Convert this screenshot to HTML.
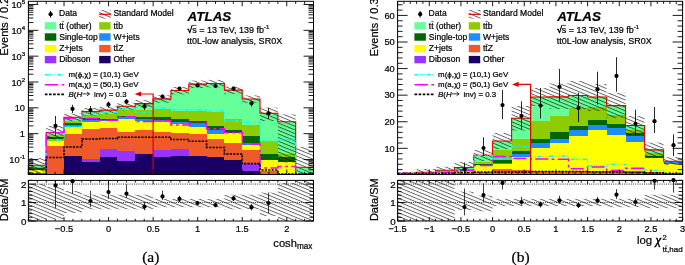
<!DOCTYPE html><html><head><meta charset="utf-8"><style>html,body{margin:0;padding:0;background:#fff;overflow:hidden}svg{display:block;will-change:transform}text{stroke:#000;stroke-width:0.22px;paint-order:stroke}</style></head><body><svg width="685" height="265" viewBox="0 0 685 265" font-family="Liberation Sans, sans-serif">
<defs>
<pattern id="hatch" patternUnits="userSpaceOnUse" width="40" height="3.35" patternTransform="rotate(22.5)"><line x1="0" y1="0.5" x2="40" y2="0.5" stroke="#000" stroke-width="0.62"/></pattern>
<clipPath id="clipm0"><rect x="28.4" y="1.3" width="285.1" height="173.2"/></clipPath>
<clipPath id="clipr0"><rect x="28.4" y="180.4" width="285.1" height="40.599999999999994"/></clipPath>
<clipPath id="clipm1"><rect x="397.6" y="1.3" width="285.0" height="173.2"/></clipPath>
<clipPath id="clipr1"><rect x="397.6" y="180.4" width="285.0" height="40.599999999999994"/></clipPath>
</defs>
<rect width="685" height="265" fill="#fff"/>
<rect x="28.40" y="165.30" width="17.82" height="1.50" fill="#66ff99" shape-rendering="crispEdges"/>
<rect x="28.40" y="166.80" width="17.82" height="1.20" fill="#8ccc00" shape-rendering="crispEdges"/>
<rect x="28.40" y="168.00" width="17.82" height="2.00" fill="#006600" shape-rendering="crispEdges"/>
<rect x="28.40" y="170.00" width="17.82" height="2.50" fill="#ffff00" shape-rendering="crispEdges"/>
<rect x="28.40" y="172.50" width="17.82" height="2.00" fill="#ee5a2a" shape-rendering="crispEdges"/>
<rect x="46.22" y="132.50" width="17.82" height="2.00" fill="#66ff99" shape-rendering="crispEdges"/>
<rect x="46.22" y="134.50" width="17.82" height="2.00" fill="#8ccc00" shape-rendering="crispEdges"/>
<rect x="46.22" y="136.50" width="17.82" height="2.50" fill="#006600" shape-rendering="crispEdges"/>
<rect x="46.22" y="139.00" width="17.82" height="2.00" fill="#8ccc00" shape-rendering="crispEdges"/>
<rect x="46.22" y="141.00" width="17.82" height="5.10" fill="#ffff00" shape-rendering="crispEdges"/>
<rect x="46.22" y="146.10" width="17.82" height="28.40" fill="#ee5a2a" shape-rendering="crispEdges"/>
<rect x="64.04" y="117.30" width="17.82" height="3.20" fill="#66ff99" shape-rendering="crispEdges"/>
<rect x="64.04" y="120.50" width="17.82" height="2.50" fill="#8ccc00" shape-rendering="crispEdges"/>
<rect x="64.04" y="123.00" width="17.82" height="2.00" fill="#006600" shape-rendering="crispEdges"/>
<rect x="64.04" y="125.00" width="17.82" height="2.00" fill="#1e8cff" shape-rendering="crispEdges"/>
<rect x="64.04" y="127.00" width="17.82" height="6.50" fill="#ffff00" shape-rendering="crispEdges"/>
<rect x="64.04" y="133.50" width="17.82" height="22.60" fill="#ee5a2a" shape-rendering="crispEdges"/>
<rect x="64.04" y="156.10" width="17.82" height="18.40" fill="#1a0066" shape-rendering="crispEdges"/>
<rect x="81.86" y="111.60" width="17.82" height="3.40" fill="#66ff99" shape-rendering="crispEdges"/>
<rect x="81.86" y="115.00" width="17.82" height="3.00" fill="#8ccc00" shape-rendering="crispEdges"/>
<rect x="81.86" y="118.00" width="17.82" height="2.00" fill="#006600" shape-rendering="crispEdges"/>
<rect x="81.86" y="120.00" width="17.82" height="2.40" fill="#1e8cff" shape-rendering="crispEdges"/>
<rect x="81.86" y="122.40" width="17.82" height="6.20" fill="#ffff00" shape-rendering="crispEdges"/>
<rect x="81.86" y="128.60" width="17.82" height="30.10" fill="#ee5a2a" shape-rendering="crispEdges"/>
<rect x="81.86" y="158.70" width="17.82" height="3.00" fill="#9933ff" shape-rendering="crispEdges"/>
<rect x="81.86" y="161.70" width="17.82" height="12.80" fill="#1a0066" shape-rendering="crispEdges"/>
<rect x="99.68" y="110.10" width="17.82" height="3.40" fill="#66ff99" shape-rendering="crispEdges"/>
<rect x="99.68" y="113.50" width="17.82" height="5.00" fill="#8ccc00" shape-rendering="crispEdges"/>
<rect x="99.68" y="118.50" width="17.82" height="1.50" fill="#006600" shape-rendering="crispEdges"/>
<rect x="99.68" y="120.00" width="17.82" height="1.00" fill="#1e8cff" shape-rendering="crispEdges"/>
<rect x="99.68" y="121.00" width="17.82" height="7.00" fill="#ffff00" shape-rendering="crispEdges"/>
<rect x="99.68" y="128.00" width="17.82" height="20.90" fill="#ee5a2a" shape-rendering="crispEdges"/>
<rect x="99.68" y="148.90" width="17.82" height="8.50" fill="#9933ff" shape-rendering="crispEdges"/>
<rect x="99.68" y="157.40" width="17.82" height="17.10" fill="#1a0066" shape-rendering="crispEdges"/>
<rect x="117.49" y="106.30" width="17.82" height="3.80" fill="#66ff99" shape-rendering="crispEdges"/>
<rect x="117.49" y="110.10" width="17.82" height="5.70" fill="#8ccc00" shape-rendering="crispEdges"/>
<rect x="117.49" y="115.80" width="17.82" height="1.20" fill="#006600" shape-rendering="crispEdges"/>
<rect x="117.49" y="117.00" width="17.82" height="1.50" fill="#1e8cff" shape-rendering="crispEdges"/>
<rect x="117.49" y="118.50" width="17.82" height="13.00" fill="#ffff00" shape-rendering="crispEdges"/>
<rect x="117.49" y="131.50" width="17.82" height="19.90" fill="#ee5a2a" shape-rendering="crispEdges"/>
<rect x="117.49" y="151.40" width="17.82" height="9.40" fill="#9933ff" shape-rendering="crispEdges"/>
<rect x="117.49" y="160.80" width="17.82" height="13.70" fill="#1a0066" shape-rendering="crispEdges"/>
<rect x="135.31" y="103.60" width="17.82" height="6.60" fill="#66ff99" shape-rendering="crispEdges"/>
<rect x="135.31" y="110.20" width="17.82" height="7.20" fill="#8ccc00" shape-rendering="crispEdges"/>
<rect x="135.31" y="117.40" width="17.82" height="1.60" fill="#006600" shape-rendering="crispEdges"/>
<rect x="135.31" y="119.00" width="17.82" height="2.00" fill="#1e8cff" shape-rendering="crispEdges"/>
<rect x="135.31" y="121.00" width="17.82" height="8.80" fill="#ffff00" shape-rendering="crispEdges"/>
<rect x="135.31" y="129.80" width="17.82" height="24.40" fill="#ee5a2a" shape-rendering="crispEdges"/>
<rect x="135.31" y="154.20" width="17.82" height="20.30" fill="#1a0066" shape-rendering="crispEdges"/>
<rect x="153.13" y="98.90" width="17.82" height="9.70" fill="#66ff99" shape-rendering="crispEdges"/>
<rect x="153.13" y="108.60" width="17.82" height="7.90" fill="#8ccc00" shape-rendering="crispEdges"/>
<rect x="153.13" y="116.50" width="17.82" height="3.00" fill="#006600" shape-rendering="crispEdges"/>
<rect x="153.13" y="119.50" width="17.82" height="2.10" fill="#1e8cff" shape-rendering="crispEdges"/>
<rect x="153.13" y="121.60" width="17.82" height="10.40" fill="#ffff00" shape-rendering="crispEdges"/>
<rect x="153.13" y="132.00" width="17.82" height="17.60" fill="#ee5a2a" shape-rendering="crispEdges"/>
<rect x="153.13" y="149.60" width="17.82" height="7.80" fill="#9933ff" shape-rendering="crispEdges"/>
<rect x="153.13" y="157.40" width="17.82" height="17.10" fill="#1a0066" shape-rendering="crispEdges"/>
<rect x="170.95" y="90.50" width="17.82" height="20.30" fill="#66ff99" shape-rendering="crispEdges"/>
<rect x="170.95" y="110.80" width="17.82" height="8.40" fill="#8ccc00" shape-rendering="crispEdges"/>
<rect x="170.95" y="119.20" width="17.82" height="2.40" fill="#006600" shape-rendering="crispEdges"/>
<rect x="170.95" y="121.60" width="17.82" height="2.60" fill="#1e8cff" shape-rendering="crispEdges"/>
<rect x="170.95" y="124.20" width="17.82" height="8.90" fill="#ffff00" shape-rendering="crispEdges"/>
<rect x="170.95" y="133.10" width="17.82" height="15.90" fill="#ee5a2a" shape-rendering="crispEdges"/>
<rect x="170.95" y="149.00" width="17.82" height="7.40" fill="#9933ff" shape-rendering="crispEdges"/>
<rect x="170.95" y="156.40" width="17.82" height="18.10" fill="#1a0066" shape-rendering="crispEdges"/>
<rect x="188.77" y="84.10" width="17.82" height="26.70" fill="#66ff99" shape-rendering="crispEdges"/>
<rect x="188.77" y="110.80" width="17.82" height="9.80" fill="#8ccc00" shape-rendering="crispEdges"/>
<rect x="188.77" y="120.60" width="17.82" height="1.90" fill="#006600" shape-rendering="crispEdges"/>
<rect x="188.77" y="122.50" width="17.82" height="4.70" fill="#1e8cff" shape-rendering="crispEdges"/>
<rect x="188.77" y="127.20" width="17.82" height="7.20" fill="#ffff00" shape-rendering="crispEdges"/>
<rect x="188.77" y="134.40" width="17.82" height="22.00" fill="#ee5a2a" shape-rendering="crispEdges"/>
<rect x="188.77" y="156.40" width="17.82" height="18.10" fill="#1a0066" shape-rendering="crispEdges"/>
<rect x="206.59" y="83.50" width="17.82" height="28.50" fill="#66ff99" shape-rendering="crispEdges"/>
<rect x="206.59" y="112.00" width="17.82" height="13.60" fill="#8ccc00" shape-rendering="crispEdges"/>
<rect x="206.59" y="125.60" width="17.82" height="3.90" fill="#006600" shape-rendering="crispEdges"/>
<rect x="206.59" y="129.50" width="17.82" height="4.60" fill="#1e8cff" shape-rendering="crispEdges"/>
<rect x="206.59" y="134.10" width="17.82" height="4.70" fill="#ffff00" shape-rendering="crispEdges"/>
<rect x="206.59" y="138.80" width="17.82" height="18.60" fill="#ee5a2a" shape-rendering="crispEdges"/>
<rect x="206.59" y="157.40" width="17.82" height="17.10" fill="#1a0066" shape-rendering="crispEdges"/>
<rect x="224.41" y="90.10" width="17.82" height="28.90" fill="#66ff99" shape-rendering="crispEdges"/>
<rect x="224.41" y="119.00" width="17.82" height="11.20" fill="#8ccc00" shape-rendering="crispEdges"/>
<rect x="224.41" y="130.20" width="17.82" height="3.00" fill="#006600" shape-rendering="crispEdges"/>
<rect x="224.41" y="133.20" width="17.82" height="10.20" fill="#ffff00" shape-rendering="crispEdges"/>
<rect x="224.41" y="143.40" width="17.82" height="16.80" fill="#ee5a2a" shape-rendering="crispEdges"/>
<rect x="224.41" y="160.20" width="17.82" height="14.30" fill="#1a0066" shape-rendering="crispEdges"/>
<rect x="242.23" y="99.00" width="17.82" height="26.00" fill="#66ff99" shape-rendering="crispEdges"/>
<rect x="242.23" y="125.00" width="17.82" height="10.50" fill="#8ccc00" shape-rendering="crispEdges"/>
<rect x="242.23" y="135.50" width="17.82" height="7.50" fill="#006600" shape-rendering="crispEdges"/>
<rect x="242.23" y="143.00" width="17.82" height="2.00" fill="#1e8cff" shape-rendering="crispEdges"/>
<rect x="242.23" y="145.00" width="17.82" height="4.60" fill="#ffff00" shape-rendering="crispEdges"/>
<rect x="242.23" y="149.60" width="17.82" height="14.00" fill="#ee5a2a" shape-rendering="crispEdges"/>
<rect x="242.23" y="163.60" width="17.82" height="6.90" fill="#9933ff" shape-rendering="crispEdges"/>
<rect x="242.23" y="170.50" width="17.82" height="4.00" fill="#1a0066" shape-rendering="crispEdges"/>
<rect x="260.04" y="113.30" width="17.82" height="27.20" fill="#66ff99" shape-rendering="crispEdges"/>
<rect x="260.04" y="140.50" width="17.82" height="13.50" fill="#8ccc00" shape-rendering="crispEdges"/>
<rect x="260.04" y="154.00" width="17.82" height="5.50" fill="#006600" shape-rendering="crispEdges"/>
<rect x="260.04" y="159.50" width="17.82" height="11.10" fill="#ffff00" shape-rendering="crispEdges"/>
<rect x="260.04" y="170.60" width="17.82" height="3.90" fill="#ee5a2a" shape-rendering="crispEdges"/>
<rect x="277.86" y="121.80" width="17.82" height="31.90" fill="#66ff99" shape-rendering="crispEdges"/>
<rect x="277.86" y="153.70" width="17.82" height="3.30" fill="#8ccc00" shape-rendering="crispEdges"/>
<rect x="277.86" y="157.00" width="17.82" height="5.20" fill="#006600" shape-rendering="crispEdges"/>
<rect x="277.86" y="162.20" width="17.82" height="12.30" fill="#ffff00" shape-rendering="crispEdges"/>
<rect x="295.68" y="167.30" width="17.82" height="7.20" fill="#66ff99" shape-rendering="crispEdges"/>
<g clip-path="url(#clipm0)">
<rect x="28.40" y="158.00" width="17.82" height="16.50" fill="url(#hatch)"/>
<rect x="46.22" y="126.00" width="17.82" height="13.50" fill="url(#hatch)"/>
<rect x="64.04" y="113.70" width="17.82" height="7.40" fill="url(#hatch)"/>
<rect x="81.86" y="108.00" width="17.82" height="7.40" fill="url(#hatch)"/>
<rect x="99.68" y="106.50" width="17.82" height="7.40" fill="url(#hatch)"/>
<rect x="117.49" y="102.70" width="17.82" height="7.40" fill="url(#hatch)"/>
<rect x="135.31" y="100.00" width="17.82" height="7.40" fill="url(#hatch)"/>
<rect x="153.13" y="95.30" width="17.82" height="7.40" fill="url(#hatch)"/>
<rect x="170.95" y="86.90" width="17.82" height="7.40" fill="url(#hatch)"/>
<rect x="188.77" y="80.50" width="17.82" height="7.40" fill="url(#hatch)"/>
<rect x="206.59" y="79.90" width="17.82" height="7.40" fill="url(#hatch)"/>
<rect x="224.41" y="86.50" width="17.82" height="7.40" fill="url(#hatch)"/>
<rect x="242.23" y="95.40" width="17.82" height="7.40" fill="url(#hatch)"/>
<rect x="260.04" y="107.60" width="17.82" height="13.40" fill="url(#hatch)"/>
<rect x="277.86" y="114.40" width="17.82" height="48.10" fill="url(#hatch)"/>
<rect x="295.68" y="146.90" width="17.82" height="27.60" fill="url(#hatch)"/>
</g>
<path d="M28.40,174.5 L28.40,165.30 L46.22,165.30 L46.22,132.50 L64.04,132.50 L64.04,117.30 L81.86,117.30 L81.86,111.60 L99.68,111.60 L99.68,110.10 L117.49,110.10 L117.49,106.30 L135.31,106.30 L135.31,103.60 L153.13,103.60 L153.13,98.90 L170.95,98.90 L170.95,90.50 L188.77,90.50 L188.77,84.10 L206.59,84.10 L206.59,83.50 L224.41,83.50 L224.41,90.10 L242.23,90.10 L242.23,99.00 L260.04,99.00 L260.04,113.30 L277.86,113.30 L277.86,121.80 L295.68,121.80 L295.68,167.30 L313.50,167.30 L313.50,174.5" fill="none" stroke="#e00000" stroke-width="1.1"/>
<path d="M28.40,174.00 L46.22,174.00 L46.22,140.00 L64.04,140.00 L64.04,126.70 L81.86,126.70 L81.86,113.00 L99.68,113.00 L99.68,112.50 L117.49,112.50 L117.49,109.00 L135.31,109.00 L135.31,113.00 L153.13,113.00 L153.13,108.20 L170.95,108.20 L170.95,109.90 L188.77,109.90 L188.77,110.00 L206.59,110.00 L206.59,111.00 L224.41,111.00 L224.41,121.00 L242.23,121.00 L242.23,122.50 L260.04,122.50 L260.04,141.00 L277.86,141.00 L277.86,139.50 L295.68,139.50 L295.68,174.00 L313.50,174.00" fill="none" stroke="#00ffff" stroke-width="1.4" stroke-dasharray="4 1.5 0.8 1.4 0.8 1.4 0.8 1.5"/>
<path d="M28.40,174.00 L46.22,174.00 L46.22,132.50 L64.04,132.50 L64.04,118.50 L81.86,118.50 L81.86,118.40 L99.68,118.40 L99.68,120.30 L117.49,120.30 L117.49,116.80 L135.31,116.80 L135.31,121.40 L153.13,121.40 L153.13,120.40 L170.95,120.40 L170.95,125.10 L188.77,125.10 L188.77,123.20 L206.59,123.20 L206.59,128.80 L224.41,128.80 L224.41,132.70 L242.23,132.70 L242.23,144.00 L260.04,144.00 L260.04,168.00 L277.86,168.00 L277.86,166.40 L295.68,166.40 L295.68,174.00 L313.50,174.00" fill="none" stroke="#ff00ff" stroke-width="1.5" stroke-dasharray="13 3.4 2.7 3.4"/>
<path d="M28.40,174.00 L46.22,174.00 L46.22,157.50 L64.04,157.50 L64.04,147.00 L81.86,147.00 L81.86,139.00 L99.68,139.00 L99.68,138.50 L117.49,138.50 L117.49,137.30 L135.31,137.30 L135.31,137.30 L153.13,137.30 L153.13,137.20 L170.95,137.20 L170.95,139.50 L188.77,139.50 L188.77,141.20 L206.59,141.20 L206.59,147.50 L224.41,147.50 L224.41,154.00 L242.23,154.00 L242.23,163.60 L260.04,163.60 L260.04,170.00 L277.86,170.00 L277.86,174.00 L295.68,174.00 L295.68,174.00 L313.50,174.00" fill="none" stroke="#000" stroke-width="1.6" stroke-dasharray="2.2 1.2"/>
<path d="M153.13,174.5 L153.13,94.00 L139.13,94.00" fill="none" stroke="#e00000" stroke-width="1.2"/>
<path d="M134.63,94.00 L141.13,91.40 L141.13,96.60 Z" fill="#e00000"/>
<line x1="55.50" y1="116.00" x2="55.50" y2="136.00" stroke="#000" stroke-width="0.85" />
<circle cx="55.50" cy="125.90" r="2.1" fill="#000"/>
<line x1="72.50" y1="104.80" x2="72.50" y2="113.10" stroke="#000" stroke-width="0.85" />
<circle cx="72.50" cy="108.90" r="2.1" fill="#000"/>
<line x1="90.50" y1="106.00" x2="90.50" y2="114.00" stroke="#000" stroke-width="0.85" />
<circle cx="90.50" cy="110.00" r="2.1" fill="#000"/>
<line x1="108.50" y1="101.50" x2="108.50" y2="107.50" stroke="#000" stroke-width="0.85" />
<circle cx="108.50" cy="104.40" r="2.1" fill="#000"/>
<line x1="126.50" y1="99.00" x2="126.50" y2="104.50" stroke="#000" stroke-width="0.85" />
<circle cx="126.50" cy="101.60" r="2.1" fill="#000"/>
<line x1="144.50" y1="103.00" x2="144.50" y2="110.00" stroke="#000" stroke-width="0.85" />
<circle cx="144.50" cy="106.40" r="2.1" fill="#000"/>
<line x1="162.50" y1="94.50" x2="162.50" y2="99.00" stroke="#000" stroke-width="0.85" />
<circle cx="162.50" cy="96.60" r="2.1" fill="#000"/>
<line x1="179.50" y1="87.00" x2="179.50" y2="90.30" stroke="#000" stroke-width="0.85" />
<circle cx="179.50" cy="88.60" r="2.1" fill="#000"/>
<line x1="197.50" y1="84.00" x2="197.50" y2="87.00" stroke="#000" stroke-width="0.85" />
<circle cx="197.50" cy="85.40" r="2.1" fill="#000"/>
<line x1="215.50" y1="84.50" x2="215.50" y2="87.50" stroke="#000" stroke-width="0.85" />
<circle cx="215.50" cy="86.00" r="2.1" fill="#000"/>
<line x1="233.50" y1="87.00" x2="233.50" y2="90.30" stroke="#000" stroke-width="0.85" />
<circle cx="233.50" cy="88.60" r="2.1" fill="#000"/>
<line x1="251.50" y1="100.50" x2="251.50" y2="106.50" stroke="#000" stroke-width="0.85" />
<circle cx="251.50" cy="103.30" r="2.1" fill="#000"/>
<line x1="268.50" y1="107.70" x2="268.50" y2="119.00" stroke="#000" stroke-width="0.85" />
<circle cx="268.50" cy="113.30" r="2.1" fill="#000"/>
<rect x="28.40" y="1.30" width="285.10" height="173.20" fill="none" stroke="#000" stroke-width="1"/>
<g clip-path="url(#clipr0)">
<rect x="28.40" y="184.00" width="17.82" height="37.00" fill="url(#hatch)"/>
<rect x="46.22" y="187.00" width="17.82" height="32.00" fill="url(#hatch)"/>
<rect x="64.04" y="191.00" width="17.82" height="22.00" fill="url(#hatch)"/>
<rect x="81.86" y="194.70" width="17.82" height="14.60" fill="url(#hatch)"/>
<rect x="99.68" y="194.70" width="17.82" height="14.60" fill="url(#hatch)"/>
<rect x="117.49" y="194.70" width="17.82" height="14.60" fill="url(#hatch)"/>
<rect x="135.31" y="194.70" width="17.82" height="14.60" fill="url(#hatch)"/>
<rect x="153.13" y="198.90" width="17.82" height="8.30" fill="url(#hatch)"/>
<rect x="170.95" y="198.90" width="17.82" height="8.30" fill="url(#hatch)"/>
<rect x="188.77" y="198.90" width="17.82" height="8.30" fill="url(#hatch)"/>
<rect x="206.59" y="198.90" width="17.82" height="8.30" fill="url(#hatch)"/>
<rect x="224.41" y="194.70" width="17.82" height="14.60" fill="url(#hatch)"/>
<rect x="242.23" y="194.70" width="17.82" height="14.60" fill="url(#hatch)"/>
<rect x="260.04" y="192.60" width="17.82" height="23.40" fill="url(#hatch)"/>
<rect x="277.86" y="183.00" width="17.82" height="38.00" fill="url(#hatch)"/>
<rect x="295.68" y="180.40" width="17.82" height="40.60" fill="url(#hatch)"/>
</g>
<line x1="28.40" y1="202.55" x2="313.50" y2="202.55" stroke="#000" stroke-width="0.8" stroke-dasharray="1 1.2"/>
<line x1="28.40" y1="184.09" x2="313.50" y2="184.09" stroke="#000" stroke-width="0.8" stroke-dasharray="1 1.2"/>
<line x1="55.50" y1="181.00" x2="55.50" y2="208.20" stroke="#000" stroke-width="0.75" />
<circle cx="55.50" cy="185.40" r="2.1" fill="#000"/>
<line x1="72.50" y1="181.00" x2="72.50" y2="193.70" stroke="#000" stroke-width="0.75" />
<circle cx="72.50" cy="181.20" r="2.1" fill="#000"/>
<line x1="90.50" y1="190.60" x2="90.50" y2="207.20" stroke="#000" stroke-width="0.75" />
<circle cx="90.50" cy="201.00" r="2.1" fill="#000"/>
<line x1="108.50" y1="181.20" x2="108.50" y2="198.90" stroke="#000" stroke-width="0.75" />
<circle cx="108.50" cy="192.00" r="2.1" fill="#000"/>
<line x1="126.50" y1="184.30" x2="126.50" y2="197.90" stroke="#000" stroke-width="0.75" />
<circle cx="126.50" cy="193.70" r="2.1" fill="#000"/>
<line x1="144.50" y1="202.00" x2="144.50" y2="210.30" stroke="#000" stroke-width="0.75" />
<circle cx="144.50" cy="206.60" r="2.1" fill="#000"/>
<line x1="162.50" y1="190.60" x2="162.50" y2="199.90" stroke="#000" stroke-width="0.75" />
<circle cx="162.50" cy="196.40" r="2.1" fill="#000"/>
<line x1="179.50" y1="195.80" x2="179.50" y2="202.00" stroke="#000" stroke-width="0.75" />
<circle cx="179.50" cy="198.90" r="2.1" fill="#000"/>
<line x1="197.50" y1="201.00" x2="197.50" y2="205.00" stroke="#000" stroke-width="0.75" />
<circle cx="197.50" cy="203.00" r="2.1" fill="#000"/>
<line x1="215.50" y1="203.00" x2="215.50" y2="207.20" stroke="#000" stroke-width="0.75" />
<circle cx="215.50" cy="205.10" r="2.1" fill="#000"/>
<line x1="233.50" y1="196.00" x2="233.50" y2="201.00" stroke="#000" stroke-width="0.75" />
<circle cx="233.50" cy="198.40" r="2.1" fill="#000"/>
<line x1="251.50" y1="204.00" x2="251.50" y2="210.50" stroke="#000" stroke-width="0.75" />
<circle cx="251.50" cy="207.20" r="2.1" fill="#000"/>
<line x1="268.50" y1="192.60" x2="268.50" y2="213.40" stroke="#000" stroke-width="0.75" />
<circle cx="268.50" cy="203.00" r="2.1" fill="#000"/>
<rect x="28.40" y="180.40" width="285.10" height="40.60" fill="none" stroke="#000" stroke-width="1"/>
<rect x="397.60" y="173.20" width="19.00" height="0.60" fill="#ffff00" shape-rendering="crispEdges"/>
<rect x="397.60" y="173.80" width="19.00" height="0.70" fill="#ee5a2a" shape-rendering="crispEdges"/>
<rect x="416.60" y="172.30" width="19.00" height="0.70" fill="#66ff99" shape-rendering="crispEdges"/>
<rect x="416.60" y="173.00" width="19.00" height="0.80" fill="#ffff00" shape-rendering="crispEdges"/>
<rect x="416.60" y="173.80" width="19.00" height="0.70" fill="#ee5a2a" shape-rendering="crispEdges"/>
<rect x="435.60" y="170.30" width="19.00" height="1.00" fill="#66ff99" shape-rendering="crispEdges"/>
<rect x="435.60" y="171.30" width="19.00" height="1.00" fill="#8ccc00" shape-rendering="crispEdges"/>
<rect x="435.60" y="172.30" width="19.00" height="1.20" fill="#ffff00" shape-rendering="crispEdges"/>
<rect x="435.60" y="173.50" width="19.00" height="1.00" fill="#ee5a2a" shape-rendering="crispEdges"/>
<rect x="454.60" y="167.50" width="19.00" height="1.50" fill="#66ff99" shape-rendering="crispEdges"/>
<rect x="454.60" y="169.00" width="19.00" height="1.50" fill="#8ccc00" shape-rendering="crispEdges"/>
<rect x="454.60" y="170.50" width="19.00" height="2.00" fill="#ffff00" shape-rendering="crispEdges"/>
<rect x="454.60" y="172.50" width="19.00" height="2.00" fill="#ee5a2a" shape-rendering="crispEdges"/>
<rect x="473.60" y="155.20" width="19.00" height="6.60" fill="#66ff99" shape-rendering="crispEdges"/>
<rect x="473.60" y="161.80" width="19.00" height="2.00" fill="#8ccc00" shape-rendering="crispEdges"/>
<rect x="473.60" y="163.80" width="19.00" height="1.20" fill="#006600" shape-rendering="crispEdges"/>
<rect x="473.60" y="165.00" width="19.00" height="6.50" fill="#ffff00" shape-rendering="crispEdges"/>
<rect x="473.60" y="171.50" width="19.00" height="3.00" fill="#ee5a2a" shape-rendering="crispEdges"/>
<rect x="492.60" y="141.00" width="19.00" height="8.50" fill="#66ff99" shape-rendering="crispEdges"/>
<rect x="492.60" y="149.50" width="19.00" height="10.70" fill="#8ccc00" shape-rendering="crispEdges"/>
<rect x="492.60" y="160.20" width="19.00" height="2.30" fill="#006600" shape-rendering="crispEdges"/>
<rect x="492.60" y="162.50" width="19.00" height="1.50" fill="#1e8cff" shape-rendering="crispEdges"/>
<rect x="492.60" y="164.00" width="19.00" height="5.20" fill="#ffff00" shape-rendering="crispEdges"/>
<rect x="492.60" y="169.20" width="19.00" height="5.30" fill="#ee5a2a" shape-rendering="crispEdges"/>
<rect x="511.60" y="118.30" width="19.00" height="20.90" fill="#66ff99" shape-rendering="crispEdges"/>
<rect x="511.60" y="139.20" width="19.00" height="11.30" fill="#8ccc00" shape-rendering="crispEdges"/>
<rect x="511.60" y="150.50" width="19.00" height="3.70" fill="#006600" shape-rendering="crispEdges"/>
<rect x="511.60" y="154.20" width="19.00" height="2.80" fill="#1e8cff" shape-rendering="crispEdges"/>
<rect x="511.60" y="157.00" width="19.00" height="13.20" fill="#ffff00" shape-rendering="crispEdges"/>
<rect x="511.60" y="170.20" width="19.00" height="4.30" fill="#ee5a2a" shape-rendering="crispEdges"/>
<rect x="530.60" y="97.00" width="19.00" height="23.60" fill="#66ff99" shape-rendering="crispEdges"/>
<rect x="530.60" y="120.60" width="19.00" height="18.00" fill="#8ccc00" shape-rendering="crispEdges"/>
<rect x="530.60" y="138.60" width="19.00" height="4.70" fill="#006600" shape-rendering="crispEdges"/>
<rect x="530.60" y="143.30" width="19.00" height="4.70" fill="#1e8cff" shape-rendering="crispEdges"/>
<rect x="530.60" y="148.00" width="19.00" height="22.50" fill="#ffff00" shape-rendering="crispEdges"/>
<rect x="530.60" y="170.50" width="19.00" height="4.00" fill="#ee5a2a" shape-rendering="crispEdges"/>
<rect x="549.60" y="96.90" width="19.00" height="19.50" fill="#66ff99" shape-rendering="crispEdges"/>
<rect x="549.60" y="116.40" width="19.00" height="15.20" fill="#8ccc00" shape-rendering="crispEdges"/>
<rect x="549.60" y="131.60" width="19.00" height="7.00" fill="#006600" shape-rendering="crispEdges"/>
<rect x="549.60" y="138.60" width="19.00" height="4.80" fill="#1e8cff" shape-rendering="crispEdges"/>
<rect x="549.60" y="143.40" width="19.00" height="27.10" fill="#ffff00" shape-rendering="crispEdges"/>
<rect x="549.60" y="170.50" width="19.00" height="4.00" fill="#ee5a2a" shape-rendering="crispEdges"/>
<rect x="568.60" y="95.50" width="19.00" height="12.10" fill="#66ff99" shape-rendering="crispEdges"/>
<rect x="568.60" y="107.60" width="19.00" height="18.10" fill="#8ccc00" shape-rendering="crispEdges"/>
<rect x="568.60" y="125.70" width="19.00" height="4.70" fill="#006600" shape-rendering="crispEdges"/>
<rect x="568.60" y="130.40" width="19.00" height="5.90" fill="#1e8cff" shape-rendering="crispEdges"/>
<rect x="568.60" y="136.30" width="19.00" height="34.20" fill="#ffff00" shape-rendering="crispEdges"/>
<rect x="568.60" y="170.50" width="19.00" height="4.00" fill="#ee5a2a" shape-rendering="crispEdges"/>
<rect x="587.60" y="97.00" width="19.00" height="10.00" fill="#66ff99" shape-rendering="crispEdges"/>
<rect x="587.60" y="107.00" width="19.00" height="12.90" fill="#8ccc00" shape-rendering="crispEdges"/>
<rect x="587.60" y="119.90" width="19.00" height="4.70" fill="#006600" shape-rendering="crispEdges"/>
<rect x="587.60" y="124.60" width="19.00" height="5.80" fill="#1e8cff" shape-rendering="crispEdges"/>
<rect x="587.60" y="130.40" width="19.00" height="40.40" fill="#ffff00" shape-rendering="crispEdges"/>
<rect x="587.60" y="170.80" width="19.00" height="3.70" fill="#ee5a2a" shape-rendering="crispEdges"/>
<rect x="606.60" y="105.60" width="19.00" height="9.10" fill="#66ff99" shape-rendering="crispEdges"/>
<rect x="606.60" y="114.70" width="19.00" height="9.10" fill="#8ccc00" shape-rendering="crispEdges"/>
<rect x="606.60" y="123.80" width="19.00" height="3.90" fill="#006600" shape-rendering="crispEdges"/>
<rect x="606.60" y="127.70" width="19.00" height="7.40" fill="#1e8cff" shape-rendering="crispEdges"/>
<rect x="606.60" y="135.10" width="19.00" height="35.70" fill="#ffff00" shape-rendering="crispEdges"/>
<rect x="606.60" y="170.80" width="19.00" height="3.70" fill="#ee5a2a" shape-rendering="crispEdges"/>
<rect x="625.60" y="125.50" width="19.00" height="4.50" fill="#66ff99" shape-rendering="crispEdges"/>
<rect x="625.60" y="130.00" width="19.00" height="2.50" fill="#8ccc00" shape-rendering="crispEdges"/>
<rect x="625.60" y="132.50" width="19.00" height="3.00" fill="#006600" shape-rendering="crispEdges"/>
<rect x="625.60" y="135.50" width="19.00" height="6.50" fill="#1e8cff" shape-rendering="crispEdges"/>
<rect x="625.60" y="142.00" width="19.00" height="29.20" fill="#ffff00" shape-rendering="crispEdges"/>
<rect x="625.60" y="171.20" width="19.00" height="3.30" fill="#ee5a2a" shape-rendering="crispEdges"/>
<rect x="644.60" y="149.90" width="19.00" height="3.10" fill="#66ff99" shape-rendering="crispEdges"/>
<rect x="644.60" y="153.00" width="19.00" height="3.00" fill="#8ccc00" shape-rendering="crispEdges"/>
<rect x="644.60" y="156.00" width="19.00" height="2.20" fill="#006600" shape-rendering="crispEdges"/>
<rect x="644.60" y="158.20" width="19.00" height="13.80" fill="#ffff00" shape-rendering="crispEdges"/>
<rect x="644.60" y="172.00" width="19.00" height="2.50" fill="#ee5a2a" shape-rendering="crispEdges"/>
<rect x="663.60" y="161.30" width="19.00" height="1.00" fill="#66ff99" shape-rendering="crispEdges"/>
<rect x="663.60" y="162.30" width="19.00" height="2.10" fill="#1e8cff" shape-rendering="crispEdges"/>
<rect x="663.60" y="164.40" width="19.00" height="8.60" fill="#ffff00" shape-rendering="crispEdges"/>
<rect x="663.60" y="173.00" width="19.00" height="1.50" fill="#ee5a2a" shape-rendering="crispEdges"/>
<g clip-path="url(#clipm1)">
<rect x="397.60" y="172.00" width="19.00" height="2.50" fill="url(#hatch)"/>
<rect x="416.60" y="169.00" width="19.00" height="5.50" fill="url(#hatch)"/>
<rect x="435.60" y="166.80" width="19.00" height="7.20" fill="url(#hatch)"/>
<rect x="454.60" y="162.00" width="19.00" height="10.00" fill="url(#hatch)"/>
<rect x="473.60" y="150.00" width="19.00" height="11.00" fill="url(#hatch)"/>
<rect x="492.60" y="133.00" width="19.00" height="16.00" fill="url(#hatch)"/>
<rect x="511.60" y="106.00" width="19.00" height="24.60" fill="url(#hatch)"/>
<rect x="530.60" y="88.00" width="19.00" height="18.00" fill="url(#hatch)"/>
<rect x="549.60" y="83.40" width="19.00" height="25.60" fill="url(#hatch)"/>
<rect x="568.60" y="81.00" width="19.00" height="28.00" fill="url(#hatch)"/>
<rect x="587.60" y="84.00" width="19.00" height="27.00" fill="url(#hatch)"/>
<rect x="606.60" y="92.80" width="19.00" height="25.20" fill="url(#hatch)"/>
<rect x="625.60" y="116.00" width="19.00" height="19.00" fill="url(#hatch)"/>
<rect x="644.60" y="142.60" width="19.00" height="14.40" fill="url(#hatch)"/>
<rect x="663.60" y="157.20" width="19.00" height="7.80" fill="url(#hatch)"/>
</g>
<path d="M397.60,174.5 L397.60,173.20 L416.60,173.20 L416.60,172.30 L435.60,172.30 L435.60,170.30 L454.60,170.30 L454.60,167.50 L473.60,167.50 L473.60,155.20 L492.60,155.20 L492.60,141.00 L511.60,141.00 L511.60,118.30 L530.60,118.30 L530.60,97.00 L549.60,97.00 L549.60,96.90 L568.60,96.90 L568.60,95.50 L587.60,95.50 L587.60,97.00 L606.60,97.00 L606.60,105.60 L625.60,105.60 L625.60,125.50 L644.60,125.50 L644.60,149.90 L663.60,149.90 L663.60,161.30 L682.60,161.30 L682.60,174.5" fill="none" stroke="#e00000" stroke-width="1.1"/>
<path d="M397.60,173.50 L416.60,173.50 L416.60,173.50 L435.60,173.50 L435.60,172.00 L454.60,172.00 L454.60,170.00 L473.60,170.00 L473.60,155.60 L492.60,155.60 L492.60,158.80 L511.60,158.80 L511.60,146.60 L530.60,146.60 L530.60,156.60 L549.60,156.60 L549.60,156.30 L568.60,156.30 L568.60,159.20 L587.60,159.20 L587.60,166.00 L606.60,166.00 L606.60,164.40 L625.60,164.40 L625.60,169.00 L644.60,169.00 L644.60,170.50 L663.60,170.50 L663.60,173.50 L682.60,173.50" fill="none" stroke="#00ffff" stroke-width="1.4" stroke-dasharray="4 1.5 0.8 1.4 0.8 1.4 0.8 1.5"/>
<path d="M397.60,173.50 L416.60,173.50 L416.60,173.50 L435.60,173.50 L435.60,172.50 L454.60,172.50 L454.60,170.20 L473.60,170.20 L473.60,165.50 L492.60,165.50 L492.60,156.40 L511.60,156.40 L511.60,158.50 L530.60,158.50 L530.60,159.10 L549.60,159.10 L549.60,159.20 L568.60,159.20 L568.60,168.70 L587.60,168.70 L587.60,167.10 L606.60,167.10 L606.60,170.50 L625.60,170.50 L625.60,168.30 L644.60,168.30 L644.60,174.00 L663.60,174.00 L663.60,174.00 L682.60,174.00" fill="none" stroke="#ff00ff" stroke-width="1.5" stroke-dasharray="13 3.4 2.7 3.4"/>
<path d="M397.60,174.00 L416.60,174.00 L416.60,174.00 L435.60,174.00 L435.60,173.50 L454.60,173.50 L454.60,172.50 L473.60,172.50 L473.60,172.00 L492.60,172.00 L492.60,172.00 L511.60,172.00 L511.60,172.00 L530.60,172.00 L530.60,171.50 L549.60,171.50 L549.60,171.50 L568.60,171.50 L568.60,171.50 L587.60,171.50 L587.60,172.00 L606.60,172.00 L606.60,172.00 L625.60,172.00 L625.60,172.50 L644.60,172.50 L644.60,173.00 L663.60,173.00 L663.60,173.50 L682.60,173.50" fill="none" stroke="#000" stroke-width="1.6" stroke-dasharray="2.2 1.2"/>
<path d="M530.60,174.5 L530.60,84.40 L516.60,84.40" fill="none" stroke="#e00000" stroke-width="1.2"/>
<path d="M512.10,84.40 L518.60,81.80 L518.60,87.00 Z" fill="#e00000"/>
<line x1="464.50" y1="162.70" x2="464.50" y2="174.00" stroke="#000" stroke-width="0.85" />
<circle cx="464.50" cy="169.30" r="2.1" fill="#000"/>
<line x1="483.50" y1="137.30" x2="483.50" y2="156.00" stroke="#000" stroke-width="0.85" />
<circle cx="483.50" cy="148.00" r="2.1" fill="#000"/>
<line x1="502.50" y1="90.00" x2="502.50" y2="119.20" stroke="#000" stroke-width="0.85" />
<circle cx="502.50" cy="105.10" r="2.1" fill="#000"/>
<line x1="521.50" y1="101.30" x2="521.50" y2="129.60" stroke="#000" stroke-width="0.85" />
<circle cx="521.50" cy="116.00" r="2.1" fill="#000"/>
<line x1="540.50" y1="88.00" x2="540.50" y2="118.50" stroke="#000" stroke-width="0.85" />
<circle cx="540.50" cy="105.60" r="2.1" fill="#000"/>
<line x1="559.50" y1="68.90" x2="559.50" y2="102.10" stroke="#000" stroke-width="0.85" />
<circle cx="559.50" cy="86.90" r="2.1" fill="#000"/>
<line x1="578.50" y1="92.80" x2="578.50" y2="122.00" stroke="#000" stroke-width="0.85" />
<circle cx="578.50" cy="108.00" r="2.1" fill="#000"/>
<line x1="597.50" y1="71.70" x2="597.50" y2="104.50" stroke="#000" stroke-width="0.85" />
<circle cx="597.50" cy="89.20" r="2.1" fill="#000"/>
<line x1="616.50" y1="57.20" x2="616.50" y2="91.60" stroke="#000" stroke-width="0.85" />
<circle cx="616.50" cy="75.90" r="2.1" fill="#000"/>
<line x1="635.50" y1="109.60" x2="635.50" y2="136.00" stroke="#000" stroke-width="0.85" />
<circle cx="635.50" cy="123.80" r="2.1" fill="#000"/>
<line x1="654.50" y1="107.00" x2="654.50" y2="133.00" stroke="#000" stroke-width="0.85" />
<circle cx="654.50" cy="121.20" r="2.1" fill="#000"/>
<line x1="673.50" y1="134.30" x2="673.50" y2="156.10" stroke="#000" stroke-width="0.85" />
<circle cx="673.50" cy="145.20" r="2.1" fill="#000"/>
<rect x="397.60" y="1.30" width="285.00" height="173.20" fill="none" stroke="#000" stroke-width="1"/>
<g clip-path="url(#clipr1)">
<rect x="397.60" y="180.40" width="19.00" height="40.60" fill="url(#hatch)"/>
<rect x="416.60" y="180.40" width="19.00" height="40.60" fill="url(#hatch)"/>
<rect x="435.60" y="180.40" width="19.00" height="40.60" fill="url(#hatch)"/>
<rect x="454.60" y="191.60" width="19.00" height="18.40" fill="url(#hatch)"/>
<rect x="473.60" y="195.70" width="19.00" height="15.60" fill="url(#hatch)"/>
<rect x="492.60" y="198.90" width="19.00" height="7.20" fill="url(#hatch)"/>
<rect x="511.60" y="198.90" width="19.00" height="7.20" fill="url(#hatch)"/>
<rect x="530.60" y="198.90" width="19.00" height="7.20" fill="url(#hatch)"/>
<rect x="549.60" y="198.90" width="19.00" height="7.20" fill="url(#hatch)"/>
<rect x="568.60" y="198.90" width="19.00" height="7.20" fill="url(#hatch)"/>
<rect x="587.60" y="198.90" width="19.00" height="7.20" fill="url(#hatch)"/>
<rect x="606.60" y="198.90" width="19.00" height="8.30" fill="url(#hatch)"/>
<rect x="625.60" y="198.90" width="19.00" height="8.30" fill="url(#hatch)"/>
<rect x="644.60" y="194.70" width="19.00" height="13.50" fill="url(#hatch)"/>
<rect x="663.60" y="194.70" width="19.00" height="13.50" fill="url(#hatch)"/>
</g>
<line x1="397.60" y1="202.55" x2="682.60" y2="202.55" stroke="#000" stroke-width="0.8" stroke-dasharray="1 1.2"/>
<line x1="397.60" y1="184.09" x2="682.60" y2="184.09" stroke="#000" stroke-width="0.8" stroke-dasharray="1 1.2"/>
<line x1="464.50" y1="188.50" x2="464.50" y2="215.40" stroke="#000" stroke-width="0.75" />
<circle cx="464.50" cy="207.10" r="2.1" fill="#000"/>
<line x1="483.50" y1="183.30" x2="483.50" y2="202.00" stroke="#000" stroke-width="0.75" />
<circle cx="483.50" cy="195.10" r="2.1" fill="#000"/>
<line x1="502.50" y1="181.00" x2="502.50" y2="189.50" stroke="#000" stroke-width="0.75" />
<circle cx="502.50" cy="182.90" r="2.1" fill="#000"/>
<line x1="521.50" y1="196.80" x2="521.50" y2="205.10" stroke="#000" stroke-width="0.75" />
<circle cx="521.50" cy="202.00" r="2.1" fill="#000"/>
<line x1="540.50" y1="201.50" x2="540.50" y2="207.50" stroke="#000" stroke-width="0.75" />
<circle cx="540.50" cy="204.50" r="2.1" fill="#000"/>
<line x1="559.50" y1="195.70" x2="559.50" y2="203.50" stroke="#000" stroke-width="0.75" />
<circle cx="559.50" cy="200.30" r="2.1" fill="#000"/>
<line x1="578.50" y1="203.00" x2="578.50" y2="208.00" stroke="#000" stroke-width="0.75" />
<circle cx="578.50" cy="205.30" r="2.1" fill="#000"/>
<line x1="597.50" y1="196.80" x2="597.50" y2="203.50" stroke="#000" stroke-width="0.75" />
<circle cx="597.50" cy="200.50" r="2.1" fill="#000"/>
<line x1="616.50" y1="189.10" x2="616.50" y2="198.90" stroke="#000" stroke-width="0.75" />
<circle cx="616.50" cy="194.70" r="2.1" fill="#000"/>
<line x1="635.50" y1="198.00" x2="635.50" y2="206.00" stroke="#000" stroke-width="0.75" />
<circle cx="635.50" cy="202.00" r="2.1" fill="#000"/>
<line x1="654.50" y1="180.80" x2="654.50" y2="189.50" stroke="#000" stroke-width="0.75" />
<circle cx="654.50" cy="180.80" r="2.1" fill="#000"/>
<line x1="673.50" y1="180.20" x2="673.50" y2="192.60" stroke="#000" stroke-width="0.75" />
<circle cx="673.50" cy="180.20" r="2.1" fill="#000"/>
<rect x="397.60" y="180.40" width="285.00" height="40.60" fill="none" stroke="#000" stroke-width="1"/>
<line x1="28.40" y1="1.30" x2="28.40" y2="3.90" stroke="#000" stroke-width="0.9" />
<line x1="28.40" y1="174.50" x2="28.40" y2="171.90" stroke="#000" stroke-width="0.9" />
<line x1="28.40" y1="180.40" x2="28.40" y2="182.60" stroke="#000" stroke-width="0.9" />
<line x1="28.40" y1="221.00" x2="28.40" y2="218.80" stroke="#000" stroke-width="0.9" />
<line x1="37.31" y1="1.30" x2="37.31" y2="3.90" stroke="#000" stroke-width="0.9" />
<line x1="37.31" y1="174.50" x2="37.31" y2="171.90" stroke="#000" stroke-width="0.9" />
<line x1="37.31" y1="180.40" x2="37.31" y2="182.60" stroke="#000" stroke-width="0.9" />
<line x1="37.31" y1="221.00" x2="37.31" y2="218.80" stroke="#000" stroke-width="0.9" />
<line x1="46.22" y1="1.30" x2="46.22" y2="3.90" stroke="#000" stroke-width="0.9" />
<line x1="46.22" y1="174.50" x2="46.22" y2="171.90" stroke="#000" stroke-width="0.9" />
<line x1="46.22" y1="180.40" x2="46.22" y2="182.60" stroke="#000" stroke-width="0.9" />
<line x1="46.22" y1="221.00" x2="46.22" y2="218.80" stroke="#000" stroke-width="0.9" />
<line x1="55.13" y1="1.30" x2="55.13" y2="3.90" stroke="#000" stroke-width="0.9" />
<line x1="55.13" y1="174.50" x2="55.13" y2="171.90" stroke="#000" stroke-width="0.9" />
<line x1="55.13" y1="180.40" x2="55.13" y2="182.60" stroke="#000" stroke-width="0.9" />
<line x1="55.13" y1="221.00" x2="55.13" y2="218.80" stroke="#000" stroke-width="0.9" />
<line x1="64.04" y1="1.30" x2="64.04" y2="6.30" stroke="#000" stroke-width="0.9" />
<line x1="64.04" y1="174.50" x2="64.04" y2="169.50" stroke="#000" stroke-width="0.9" />
<line x1="64.04" y1="180.40" x2="64.04" y2="184.40" stroke="#000" stroke-width="0.9" />
<line x1="64.04" y1="221.00" x2="64.04" y2="217.00" stroke="#000" stroke-width="0.9" />
<line x1="72.95" y1="1.30" x2="72.95" y2="3.90" stroke="#000" stroke-width="0.9" />
<line x1="72.95" y1="174.50" x2="72.95" y2="171.90" stroke="#000" stroke-width="0.9" />
<line x1="72.95" y1="180.40" x2="72.95" y2="182.60" stroke="#000" stroke-width="0.9" />
<line x1="72.95" y1="221.00" x2="72.95" y2="218.80" stroke="#000" stroke-width="0.9" />
<line x1="81.86" y1="1.30" x2="81.86" y2="3.90" stroke="#000" stroke-width="0.9" />
<line x1="81.86" y1="174.50" x2="81.86" y2="171.90" stroke="#000" stroke-width="0.9" />
<line x1="81.86" y1="180.40" x2="81.86" y2="182.60" stroke="#000" stroke-width="0.9" />
<line x1="81.86" y1="221.00" x2="81.86" y2="218.80" stroke="#000" stroke-width="0.9" />
<line x1="90.77" y1="1.30" x2="90.77" y2="3.90" stroke="#000" stroke-width="0.9" />
<line x1="90.77" y1="174.50" x2="90.77" y2="171.90" stroke="#000" stroke-width="0.9" />
<line x1="90.77" y1="180.40" x2="90.77" y2="182.60" stroke="#000" stroke-width="0.9" />
<line x1="90.77" y1="221.00" x2="90.77" y2="218.80" stroke="#000" stroke-width="0.9" />
<line x1="99.68" y1="1.30" x2="99.68" y2="3.90" stroke="#000" stroke-width="0.9" />
<line x1="99.68" y1="174.50" x2="99.68" y2="171.90" stroke="#000" stroke-width="0.9" />
<line x1="99.68" y1="180.40" x2="99.68" y2="182.60" stroke="#000" stroke-width="0.9" />
<line x1="99.68" y1="221.00" x2="99.68" y2="218.80" stroke="#000" stroke-width="0.9" />
<line x1="108.58" y1="1.30" x2="108.58" y2="6.30" stroke="#000" stroke-width="0.9" />
<line x1="108.58" y1="174.50" x2="108.58" y2="169.50" stroke="#000" stroke-width="0.9" />
<line x1="108.58" y1="180.40" x2="108.58" y2="184.40" stroke="#000" stroke-width="0.9" />
<line x1="108.58" y1="221.00" x2="108.58" y2="217.00" stroke="#000" stroke-width="0.9" />
<line x1="117.49" y1="1.30" x2="117.49" y2="3.90" stroke="#000" stroke-width="0.9" />
<line x1="117.49" y1="174.50" x2="117.49" y2="171.90" stroke="#000" stroke-width="0.9" />
<line x1="117.49" y1="180.40" x2="117.49" y2="182.60" stroke="#000" stroke-width="0.9" />
<line x1="117.49" y1="221.00" x2="117.49" y2="218.80" stroke="#000" stroke-width="0.9" />
<line x1="126.40" y1="1.30" x2="126.40" y2="3.90" stroke="#000" stroke-width="0.9" />
<line x1="126.40" y1="174.50" x2="126.40" y2="171.90" stroke="#000" stroke-width="0.9" />
<line x1="126.40" y1="180.40" x2="126.40" y2="182.60" stroke="#000" stroke-width="0.9" />
<line x1="126.40" y1="221.00" x2="126.40" y2="218.80" stroke="#000" stroke-width="0.9" />
<line x1="135.31" y1="1.30" x2="135.31" y2="3.90" stroke="#000" stroke-width="0.9" />
<line x1="135.31" y1="174.50" x2="135.31" y2="171.90" stroke="#000" stroke-width="0.9" />
<line x1="135.31" y1="180.40" x2="135.31" y2="182.60" stroke="#000" stroke-width="0.9" />
<line x1="135.31" y1="221.00" x2="135.31" y2="218.80" stroke="#000" stroke-width="0.9" />
<line x1="144.22" y1="1.30" x2="144.22" y2="3.90" stroke="#000" stroke-width="0.9" />
<line x1="144.22" y1="174.50" x2="144.22" y2="171.90" stroke="#000" stroke-width="0.9" />
<line x1="144.22" y1="180.40" x2="144.22" y2="182.60" stroke="#000" stroke-width="0.9" />
<line x1="144.22" y1="221.00" x2="144.22" y2="218.80" stroke="#000" stroke-width="0.9" />
<line x1="153.13" y1="1.30" x2="153.13" y2="6.30" stroke="#000" stroke-width="0.9" />
<line x1="153.13" y1="174.50" x2="153.13" y2="169.50" stroke="#000" stroke-width="0.9" />
<line x1="153.13" y1="180.40" x2="153.13" y2="184.40" stroke="#000" stroke-width="0.9" />
<line x1="153.13" y1="221.00" x2="153.13" y2="217.00" stroke="#000" stroke-width="0.9" />
<line x1="162.04" y1="1.30" x2="162.04" y2="3.90" stroke="#000" stroke-width="0.9" />
<line x1="162.04" y1="174.50" x2="162.04" y2="171.90" stroke="#000" stroke-width="0.9" />
<line x1="162.04" y1="180.40" x2="162.04" y2="182.60" stroke="#000" stroke-width="0.9" />
<line x1="162.04" y1="221.00" x2="162.04" y2="218.80" stroke="#000" stroke-width="0.9" />
<line x1="170.95" y1="1.30" x2="170.95" y2="3.90" stroke="#000" stroke-width="0.9" />
<line x1="170.95" y1="174.50" x2="170.95" y2="171.90" stroke="#000" stroke-width="0.9" />
<line x1="170.95" y1="180.40" x2="170.95" y2="182.60" stroke="#000" stroke-width="0.9" />
<line x1="170.95" y1="221.00" x2="170.95" y2="218.80" stroke="#000" stroke-width="0.9" />
<line x1="179.86" y1="1.30" x2="179.86" y2="3.90" stroke="#000" stroke-width="0.9" />
<line x1="179.86" y1="174.50" x2="179.86" y2="171.90" stroke="#000" stroke-width="0.9" />
<line x1="179.86" y1="180.40" x2="179.86" y2="182.60" stroke="#000" stroke-width="0.9" />
<line x1="179.86" y1="221.00" x2="179.86" y2="218.80" stroke="#000" stroke-width="0.9" />
<line x1="188.77" y1="1.30" x2="188.77" y2="3.90" stroke="#000" stroke-width="0.9" />
<line x1="188.77" y1="174.50" x2="188.77" y2="171.90" stroke="#000" stroke-width="0.9" />
<line x1="188.77" y1="180.40" x2="188.77" y2="182.60" stroke="#000" stroke-width="0.9" />
<line x1="188.77" y1="221.00" x2="188.77" y2="218.80" stroke="#000" stroke-width="0.9" />
<line x1="197.68" y1="1.30" x2="197.68" y2="6.30" stroke="#000" stroke-width="0.9" />
<line x1="197.68" y1="174.50" x2="197.68" y2="169.50" stroke="#000" stroke-width="0.9" />
<line x1="197.68" y1="180.40" x2="197.68" y2="184.40" stroke="#000" stroke-width="0.9" />
<line x1="197.68" y1="221.00" x2="197.68" y2="217.00" stroke="#000" stroke-width="0.9" />
<line x1="206.59" y1="1.30" x2="206.59" y2="3.90" stroke="#000" stroke-width="0.9" />
<line x1="206.59" y1="174.50" x2="206.59" y2="171.90" stroke="#000" stroke-width="0.9" />
<line x1="206.59" y1="180.40" x2="206.59" y2="182.60" stroke="#000" stroke-width="0.9" />
<line x1="206.59" y1="221.00" x2="206.59" y2="218.80" stroke="#000" stroke-width="0.9" />
<line x1="215.50" y1="1.30" x2="215.50" y2="3.90" stroke="#000" stroke-width="0.9" />
<line x1="215.50" y1="174.50" x2="215.50" y2="171.90" stroke="#000" stroke-width="0.9" />
<line x1="215.50" y1="180.40" x2="215.50" y2="182.60" stroke="#000" stroke-width="0.9" />
<line x1="215.50" y1="221.00" x2="215.50" y2="218.80" stroke="#000" stroke-width="0.9" />
<line x1="224.41" y1="1.30" x2="224.41" y2="3.90" stroke="#000" stroke-width="0.9" />
<line x1="224.41" y1="174.50" x2="224.41" y2="171.90" stroke="#000" stroke-width="0.9" />
<line x1="224.41" y1="180.40" x2="224.41" y2="182.60" stroke="#000" stroke-width="0.9" />
<line x1="224.41" y1="221.00" x2="224.41" y2="218.80" stroke="#000" stroke-width="0.9" />
<line x1="233.32" y1="1.30" x2="233.32" y2="3.90" stroke="#000" stroke-width="0.9" />
<line x1="233.32" y1="174.50" x2="233.32" y2="171.90" stroke="#000" stroke-width="0.9" />
<line x1="233.32" y1="180.40" x2="233.32" y2="182.60" stroke="#000" stroke-width="0.9" />
<line x1="233.32" y1="221.00" x2="233.32" y2="218.80" stroke="#000" stroke-width="0.9" />
<line x1="242.23" y1="1.30" x2="242.23" y2="6.30" stroke="#000" stroke-width="0.9" />
<line x1="242.23" y1="174.50" x2="242.23" y2="169.50" stroke="#000" stroke-width="0.9" />
<line x1="242.23" y1="180.40" x2="242.23" y2="184.40" stroke="#000" stroke-width="0.9" />
<line x1="242.23" y1="221.00" x2="242.23" y2="217.00" stroke="#000" stroke-width="0.9" />
<line x1="251.13" y1="1.30" x2="251.13" y2="3.90" stroke="#000" stroke-width="0.9" />
<line x1="251.13" y1="174.50" x2="251.13" y2="171.90" stroke="#000" stroke-width="0.9" />
<line x1="251.13" y1="180.40" x2="251.13" y2="182.60" stroke="#000" stroke-width="0.9" />
<line x1="251.13" y1="221.00" x2="251.13" y2="218.80" stroke="#000" stroke-width="0.9" />
<line x1="260.04" y1="1.30" x2="260.04" y2="3.90" stroke="#000" stroke-width="0.9" />
<line x1="260.04" y1="174.50" x2="260.04" y2="171.90" stroke="#000" stroke-width="0.9" />
<line x1="260.04" y1="180.40" x2="260.04" y2="182.60" stroke="#000" stroke-width="0.9" />
<line x1="260.04" y1="221.00" x2="260.04" y2="218.80" stroke="#000" stroke-width="0.9" />
<line x1="268.95" y1="1.30" x2="268.95" y2="3.90" stroke="#000" stroke-width="0.9" />
<line x1="268.95" y1="174.50" x2="268.95" y2="171.90" stroke="#000" stroke-width="0.9" />
<line x1="268.95" y1="180.40" x2="268.95" y2="182.60" stroke="#000" stroke-width="0.9" />
<line x1="268.95" y1="221.00" x2="268.95" y2="218.80" stroke="#000" stroke-width="0.9" />
<line x1="277.86" y1="1.30" x2="277.86" y2="3.90" stroke="#000" stroke-width="0.9" />
<line x1="277.86" y1="174.50" x2="277.86" y2="171.90" stroke="#000" stroke-width="0.9" />
<line x1="277.86" y1="180.40" x2="277.86" y2="182.60" stroke="#000" stroke-width="0.9" />
<line x1="277.86" y1="221.00" x2="277.86" y2="218.80" stroke="#000" stroke-width="0.9" />
<line x1="286.77" y1="1.30" x2="286.77" y2="6.30" stroke="#000" stroke-width="0.9" />
<line x1="286.77" y1="174.50" x2="286.77" y2="169.50" stroke="#000" stroke-width="0.9" />
<line x1="286.77" y1="180.40" x2="286.77" y2="184.40" stroke="#000" stroke-width="0.9" />
<line x1="286.77" y1="221.00" x2="286.77" y2="217.00" stroke="#000" stroke-width="0.9" />
<line x1="295.68" y1="1.30" x2="295.68" y2="3.90" stroke="#000" stroke-width="0.9" />
<line x1="295.68" y1="174.50" x2="295.68" y2="171.90" stroke="#000" stroke-width="0.9" />
<line x1="295.68" y1="180.40" x2="295.68" y2="182.60" stroke="#000" stroke-width="0.9" />
<line x1="295.68" y1="221.00" x2="295.68" y2="218.80" stroke="#000" stroke-width="0.9" />
<line x1="304.59" y1="1.30" x2="304.59" y2="3.90" stroke="#000" stroke-width="0.9" />
<line x1="304.59" y1="174.50" x2="304.59" y2="171.90" stroke="#000" stroke-width="0.9" />
<line x1="304.59" y1="180.40" x2="304.59" y2="182.60" stroke="#000" stroke-width="0.9" />
<line x1="304.59" y1="221.00" x2="304.59" y2="218.80" stroke="#000" stroke-width="0.9" />
<line x1="313.50" y1="1.30" x2="313.50" y2="3.90" stroke="#000" stroke-width="0.9" />
<line x1="313.50" y1="174.50" x2="313.50" y2="171.90" stroke="#000" stroke-width="0.9" />
<line x1="313.50" y1="180.40" x2="313.50" y2="182.60" stroke="#000" stroke-width="0.9" />
<line x1="313.50" y1="221.00" x2="313.50" y2="218.80" stroke="#000" stroke-width="0.9" />
<line x1="397.60" y1="1.30" x2="397.60" y2="6.30" stroke="#000" stroke-width="0.9" />
<line x1="397.60" y1="174.50" x2="397.60" y2="169.50" stroke="#000" stroke-width="0.9" />
<line x1="397.60" y1="180.40" x2="397.60" y2="184.40" stroke="#000" stroke-width="0.9" />
<line x1="397.60" y1="221.00" x2="397.60" y2="217.00" stroke="#000" stroke-width="0.9" />
<line x1="403.93" y1="1.30" x2="403.93" y2="3.90" stroke="#000" stroke-width="0.9" />
<line x1="403.93" y1="174.50" x2="403.93" y2="171.90" stroke="#000" stroke-width="0.9" />
<line x1="403.93" y1="180.40" x2="403.93" y2="182.60" stroke="#000" stroke-width="0.9" />
<line x1="403.93" y1="221.00" x2="403.93" y2="218.80" stroke="#000" stroke-width="0.9" />
<line x1="410.27" y1="1.30" x2="410.27" y2="3.90" stroke="#000" stroke-width="0.9" />
<line x1="410.27" y1="174.50" x2="410.27" y2="171.90" stroke="#000" stroke-width="0.9" />
<line x1="410.27" y1="180.40" x2="410.27" y2="182.60" stroke="#000" stroke-width="0.9" />
<line x1="410.27" y1="221.00" x2="410.27" y2="218.80" stroke="#000" stroke-width="0.9" />
<line x1="416.60" y1="1.30" x2="416.60" y2="3.90" stroke="#000" stroke-width="0.9" />
<line x1="416.60" y1="174.50" x2="416.60" y2="171.90" stroke="#000" stroke-width="0.9" />
<line x1="416.60" y1="180.40" x2="416.60" y2="182.60" stroke="#000" stroke-width="0.9" />
<line x1="416.60" y1="221.00" x2="416.60" y2="218.80" stroke="#000" stroke-width="0.9" />
<line x1="422.93" y1="1.30" x2="422.93" y2="3.90" stroke="#000" stroke-width="0.9" />
<line x1="422.93" y1="174.50" x2="422.93" y2="171.90" stroke="#000" stroke-width="0.9" />
<line x1="422.93" y1="180.40" x2="422.93" y2="182.60" stroke="#000" stroke-width="0.9" />
<line x1="422.93" y1="221.00" x2="422.93" y2="218.80" stroke="#000" stroke-width="0.9" />
<line x1="429.27" y1="1.30" x2="429.27" y2="6.30" stroke="#000" stroke-width="0.9" />
<line x1="429.27" y1="174.50" x2="429.27" y2="169.50" stroke="#000" stroke-width="0.9" />
<line x1="429.27" y1="180.40" x2="429.27" y2="184.40" stroke="#000" stroke-width="0.9" />
<line x1="429.27" y1="221.00" x2="429.27" y2="217.00" stroke="#000" stroke-width="0.9" />
<line x1="435.60" y1="1.30" x2="435.60" y2="3.90" stroke="#000" stroke-width="0.9" />
<line x1="435.60" y1="174.50" x2="435.60" y2="171.90" stroke="#000" stroke-width="0.9" />
<line x1="435.60" y1="180.40" x2="435.60" y2="182.60" stroke="#000" stroke-width="0.9" />
<line x1="435.60" y1="221.00" x2="435.60" y2="218.80" stroke="#000" stroke-width="0.9" />
<line x1="441.93" y1="1.30" x2="441.93" y2="3.90" stroke="#000" stroke-width="0.9" />
<line x1="441.93" y1="174.50" x2="441.93" y2="171.90" stroke="#000" stroke-width="0.9" />
<line x1="441.93" y1="180.40" x2="441.93" y2="182.60" stroke="#000" stroke-width="0.9" />
<line x1="441.93" y1="221.00" x2="441.93" y2="218.80" stroke="#000" stroke-width="0.9" />
<line x1="448.27" y1="1.30" x2="448.27" y2="3.90" stroke="#000" stroke-width="0.9" />
<line x1="448.27" y1="174.50" x2="448.27" y2="171.90" stroke="#000" stroke-width="0.9" />
<line x1="448.27" y1="180.40" x2="448.27" y2="182.60" stroke="#000" stroke-width="0.9" />
<line x1="448.27" y1="221.00" x2="448.27" y2="218.80" stroke="#000" stroke-width="0.9" />
<line x1="454.60" y1="1.30" x2="454.60" y2="3.90" stroke="#000" stroke-width="0.9" />
<line x1="454.60" y1="174.50" x2="454.60" y2="171.90" stroke="#000" stroke-width="0.9" />
<line x1="454.60" y1="180.40" x2="454.60" y2="182.60" stroke="#000" stroke-width="0.9" />
<line x1="454.60" y1="221.00" x2="454.60" y2="218.80" stroke="#000" stroke-width="0.9" />
<line x1="460.93" y1="1.30" x2="460.93" y2="6.30" stroke="#000" stroke-width="0.9" />
<line x1="460.93" y1="174.50" x2="460.93" y2="169.50" stroke="#000" stroke-width="0.9" />
<line x1="460.93" y1="180.40" x2="460.93" y2="184.40" stroke="#000" stroke-width="0.9" />
<line x1="460.93" y1="221.00" x2="460.93" y2="217.00" stroke="#000" stroke-width="0.9" />
<line x1="467.27" y1="1.30" x2="467.27" y2="3.90" stroke="#000" stroke-width="0.9" />
<line x1="467.27" y1="174.50" x2="467.27" y2="171.90" stroke="#000" stroke-width="0.9" />
<line x1="467.27" y1="180.40" x2="467.27" y2="182.60" stroke="#000" stroke-width="0.9" />
<line x1="467.27" y1="221.00" x2="467.27" y2="218.80" stroke="#000" stroke-width="0.9" />
<line x1="473.60" y1="1.30" x2="473.60" y2="3.90" stroke="#000" stroke-width="0.9" />
<line x1="473.60" y1="174.50" x2="473.60" y2="171.90" stroke="#000" stroke-width="0.9" />
<line x1="473.60" y1="180.40" x2="473.60" y2="182.60" stroke="#000" stroke-width="0.9" />
<line x1="473.60" y1="221.00" x2="473.60" y2="218.80" stroke="#000" stroke-width="0.9" />
<line x1="479.93" y1="1.30" x2="479.93" y2="3.90" stroke="#000" stroke-width="0.9" />
<line x1="479.93" y1="174.50" x2="479.93" y2="171.90" stroke="#000" stroke-width="0.9" />
<line x1="479.93" y1="180.40" x2="479.93" y2="182.60" stroke="#000" stroke-width="0.9" />
<line x1="479.93" y1="221.00" x2="479.93" y2="218.80" stroke="#000" stroke-width="0.9" />
<line x1="486.27" y1="1.30" x2="486.27" y2="3.90" stroke="#000" stroke-width="0.9" />
<line x1="486.27" y1="174.50" x2="486.27" y2="171.90" stroke="#000" stroke-width="0.9" />
<line x1="486.27" y1="180.40" x2="486.27" y2="182.60" stroke="#000" stroke-width="0.9" />
<line x1="486.27" y1="221.00" x2="486.27" y2="218.80" stroke="#000" stroke-width="0.9" />
<line x1="492.60" y1="1.30" x2="492.60" y2="6.30" stroke="#000" stroke-width="0.9" />
<line x1="492.60" y1="174.50" x2="492.60" y2="169.50" stroke="#000" stroke-width="0.9" />
<line x1="492.60" y1="180.40" x2="492.60" y2="184.40" stroke="#000" stroke-width="0.9" />
<line x1="492.60" y1="221.00" x2="492.60" y2="217.00" stroke="#000" stroke-width="0.9" />
<line x1="498.93" y1="1.30" x2="498.93" y2="3.90" stroke="#000" stroke-width="0.9" />
<line x1="498.93" y1="174.50" x2="498.93" y2="171.90" stroke="#000" stroke-width="0.9" />
<line x1="498.93" y1="180.40" x2="498.93" y2="182.60" stroke="#000" stroke-width="0.9" />
<line x1="498.93" y1="221.00" x2="498.93" y2="218.80" stroke="#000" stroke-width="0.9" />
<line x1="505.27" y1="1.30" x2="505.27" y2="3.90" stroke="#000" stroke-width="0.9" />
<line x1="505.27" y1="174.50" x2="505.27" y2="171.90" stroke="#000" stroke-width="0.9" />
<line x1="505.27" y1="180.40" x2="505.27" y2="182.60" stroke="#000" stroke-width="0.9" />
<line x1="505.27" y1="221.00" x2="505.27" y2="218.80" stroke="#000" stroke-width="0.9" />
<line x1="511.60" y1="1.30" x2="511.60" y2="3.90" stroke="#000" stroke-width="0.9" />
<line x1="511.60" y1="174.50" x2="511.60" y2="171.90" stroke="#000" stroke-width="0.9" />
<line x1="511.60" y1="180.40" x2="511.60" y2="182.60" stroke="#000" stroke-width="0.9" />
<line x1="511.60" y1="221.00" x2="511.60" y2="218.80" stroke="#000" stroke-width="0.9" />
<line x1="517.93" y1="1.30" x2="517.93" y2="3.90" stroke="#000" stroke-width="0.9" />
<line x1="517.93" y1="174.50" x2="517.93" y2="171.90" stroke="#000" stroke-width="0.9" />
<line x1="517.93" y1="180.40" x2="517.93" y2="182.60" stroke="#000" stroke-width="0.9" />
<line x1="517.93" y1="221.00" x2="517.93" y2="218.80" stroke="#000" stroke-width="0.9" />
<line x1="524.27" y1="1.30" x2="524.27" y2="6.30" stroke="#000" stroke-width="0.9" />
<line x1="524.27" y1="174.50" x2="524.27" y2="169.50" stroke="#000" stroke-width="0.9" />
<line x1="524.27" y1="180.40" x2="524.27" y2="184.40" stroke="#000" stroke-width="0.9" />
<line x1="524.27" y1="221.00" x2="524.27" y2="217.00" stroke="#000" stroke-width="0.9" />
<line x1="530.60" y1="1.30" x2="530.60" y2="3.90" stroke="#000" stroke-width="0.9" />
<line x1="530.60" y1="174.50" x2="530.60" y2="171.90" stroke="#000" stroke-width="0.9" />
<line x1="530.60" y1="180.40" x2="530.60" y2="182.60" stroke="#000" stroke-width="0.9" />
<line x1="530.60" y1="221.00" x2="530.60" y2="218.80" stroke="#000" stroke-width="0.9" />
<line x1="536.93" y1="1.30" x2="536.93" y2="3.90" stroke="#000" stroke-width="0.9" />
<line x1="536.93" y1="174.50" x2="536.93" y2="171.90" stroke="#000" stroke-width="0.9" />
<line x1="536.93" y1="180.40" x2="536.93" y2="182.60" stroke="#000" stroke-width="0.9" />
<line x1="536.93" y1="221.00" x2="536.93" y2="218.80" stroke="#000" stroke-width="0.9" />
<line x1="543.27" y1="1.30" x2="543.27" y2="3.90" stroke="#000" stroke-width="0.9" />
<line x1="543.27" y1="174.50" x2="543.27" y2="171.90" stroke="#000" stroke-width="0.9" />
<line x1="543.27" y1="180.40" x2="543.27" y2="182.60" stroke="#000" stroke-width="0.9" />
<line x1="543.27" y1="221.00" x2="543.27" y2="218.80" stroke="#000" stroke-width="0.9" />
<line x1="549.60" y1="1.30" x2="549.60" y2="3.90" stroke="#000" stroke-width="0.9" />
<line x1="549.60" y1="174.50" x2="549.60" y2="171.90" stroke="#000" stroke-width="0.9" />
<line x1="549.60" y1="180.40" x2="549.60" y2="182.60" stroke="#000" stroke-width="0.9" />
<line x1="549.60" y1="221.00" x2="549.60" y2="218.80" stroke="#000" stroke-width="0.9" />
<line x1="555.93" y1="1.30" x2="555.93" y2="6.30" stroke="#000" stroke-width="0.9" />
<line x1="555.93" y1="174.50" x2="555.93" y2="169.50" stroke="#000" stroke-width="0.9" />
<line x1="555.93" y1="180.40" x2="555.93" y2="184.40" stroke="#000" stroke-width="0.9" />
<line x1="555.93" y1="221.00" x2="555.93" y2="217.00" stroke="#000" stroke-width="0.9" />
<line x1="562.27" y1="1.30" x2="562.27" y2="3.90" stroke="#000" stroke-width="0.9" />
<line x1="562.27" y1="174.50" x2="562.27" y2="171.90" stroke="#000" stroke-width="0.9" />
<line x1="562.27" y1="180.40" x2="562.27" y2="182.60" stroke="#000" stroke-width="0.9" />
<line x1="562.27" y1="221.00" x2="562.27" y2="218.80" stroke="#000" stroke-width="0.9" />
<line x1="568.60" y1="1.30" x2="568.60" y2="3.90" stroke="#000" stroke-width="0.9" />
<line x1="568.60" y1="174.50" x2="568.60" y2="171.90" stroke="#000" stroke-width="0.9" />
<line x1="568.60" y1="180.40" x2="568.60" y2="182.60" stroke="#000" stroke-width="0.9" />
<line x1="568.60" y1="221.00" x2="568.60" y2="218.80" stroke="#000" stroke-width="0.9" />
<line x1="574.93" y1="1.30" x2="574.93" y2="3.90" stroke="#000" stroke-width="0.9" />
<line x1="574.93" y1="174.50" x2="574.93" y2="171.90" stroke="#000" stroke-width="0.9" />
<line x1="574.93" y1="180.40" x2="574.93" y2="182.60" stroke="#000" stroke-width="0.9" />
<line x1="574.93" y1="221.00" x2="574.93" y2="218.80" stroke="#000" stroke-width="0.9" />
<line x1="581.27" y1="1.30" x2="581.27" y2="3.90" stroke="#000" stroke-width="0.9" />
<line x1="581.27" y1="174.50" x2="581.27" y2="171.90" stroke="#000" stroke-width="0.9" />
<line x1="581.27" y1="180.40" x2="581.27" y2="182.60" stroke="#000" stroke-width="0.9" />
<line x1="581.27" y1="221.00" x2="581.27" y2="218.80" stroke="#000" stroke-width="0.9" />
<line x1="587.60" y1="1.30" x2="587.60" y2="6.30" stroke="#000" stroke-width="0.9" />
<line x1="587.60" y1="174.50" x2="587.60" y2="169.50" stroke="#000" stroke-width="0.9" />
<line x1="587.60" y1="180.40" x2="587.60" y2="184.40" stroke="#000" stroke-width="0.9" />
<line x1="587.60" y1="221.00" x2="587.60" y2="217.00" stroke="#000" stroke-width="0.9" />
<line x1="593.93" y1="1.30" x2="593.93" y2="3.90" stroke="#000" stroke-width="0.9" />
<line x1="593.93" y1="174.50" x2="593.93" y2="171.90" stroke="#000" stroke-width="0.9" />
<line x1="593.93" y1="180.40" x2="593.93" y2="182.60" stroke="#000" stroke-width="0.9" />
<line x1="593.93" y1="221.00" x2="593.93" y2="218.80" stroke="#000" stroke-width="0.9" />
<line x1="600.27" y1="1.30" x2="600.27" y2="3.90" stroke="#000" stroke-width="0.9" />
<line x1="600.27" y1="174.50" x2="600.27" y2="171.90" stroke="#000" stroke-width="0.9" />
<line x1="600.27" y1="180.40" x2="600.27" y2="182.60" stroke="#000" stroke-width="0.9" />
<line x1="600.27" y1="221.00" x2="600.27" y2="218.80" stroke="#000" stroke-width="0.9" />
<line x1="606.60" y1="1.30" x2="606.60" y2="3.90" stroke="#000" stroke-width="0.9" />
<line x1="606.60" y1="174.50" x2="606.60" y2="171.90" stroke="#000" stroke-width="0.9" />
<line x1="606.60" y1="180.40" x2="606.60" y2="182.60" stroke="#000" stroke-width="0.9" />
<line x1="606.60" y1="221.00" x2="606.60" y2="218.80" stroke="#000" stroke-width="0.9" />
<line x1="612.93" y1="1.30" x2="612.93" y2="3.90" stroke="#000" stroke-width="0.9" />
<line x1="612.93" y1="174.50" x2="612.93" y2="171.90" stroke="#000" stroke-width="0.9" />
<line x1="612.93" y1="180.40" x2="612.93" y2="182.60" stroke="#000" stroke-width="0.9" />
<line x1="612.93" y1="221.00" x2="612.93" y2="218.80" stroke="#000" stroke-width="0.9" />
<line x1="619.27" y1="1.30" x2="619.27" y2="6.30" stroke="#000" stroke-width="0.9" />
<line x1="619.27" y1="174.50" x2="619.27" y2="169.50" stroke="#000" stroke-width="0.9" />
<line x1="619.27" y1="180.40" x2="619.27" y2="184.40" stroke="#000" stroke-width="0.9" />
<line x1="619.27" y1="221.00" x2="619.27" y2="217.00" stroke="#000" stroke-width="0.9" />
<line x1="625.60" y1="1.30" x2="625.60" y2="3.90" stroke="#000" stroke-width="0.9" />
<line x1="625.60" y1="174.50" x2="625.60" y2="171.90" stroke="#000" stroke-width="0.9" />
<line x1="625.60" y1="180.40" x2="625.60" y2="182.60" stroke="#000" stroke-width="0.9" />
<line x1="625.60" y1="221.00" x2="625.60" y2="218.80" stroke="#000" stroke-width="0.9" />
<line x1="631.93" y1="1.30" x2="631.93" y2="3.90" stroke="#000" stroke-width="0.9" />
<line x1="631.93" y1="174.50" x2="631.93" y2="171.90" stroke="#000" stroke-width="0.9" />
<line x1="631.93" y1="180.40" x2="631.93" y2="182.60" stroke="#000" stroke-width="0.9" />
<line x1="631.93" y1="221.00" x2="631.93" y2="218.80" stroke="#000" stroke-width="0.9" />
<line x1="638.27" y1="1.30" x2="638.27" y2="3.90" stroke="#000" stroke-width="0.9" />
<line x1="638.27" y1="174.50" x2="638.27" y2="171.90" stroke="#000" stroke-width="0.9" />
<line x1="638.27" y1="180.40" x2="638.27" y2="182.60" stroke="#000" stroke-width="0.9" />
<line x1="638.27" y1="221.00" x2="638.27" y2="218.80" stroke="#000" stroke-width="0.9" />
<line x1="644.60" y1="1.30" x2="644.60" y2="3.90" stroke="#000" stroke-width="0.9" />
<line x1="644.60" y1="174.50" x2="644.60" y2="171.90" stroke="#000" stroke-width="0.9" />
<line x1="644.60" y1="180.40" x2="644.60" y2="182.60" stroke="#000" stroke-width="0.9" />
<line x1="644.60" y1="221.00" x2="644.60" y2="218.80" stroke="#000" stroke-width="0.9" />
<line x1="650.93" y1="1.30" x2="650.93" y2="6.30" stroke="#000" stroke-width="0.9" />
<line x1="650.93" y1="174.50" x2="650.93" y2="169.50" stroke="#000" stroke-width="0.9" />
<line x1="650.93" y1="180.40" x2="650.93" y2="184.40" stroke="#000" stroke-width="0.9" />
<line x1="650.93" y1="221.00" x2="650.93" y2="217.00" stroke="#000" stroke-width="0.9" />
<line x1="657.27" y1="1.30" x2="657.27" y2="3.90" stroke="#000" stroke-width="0.9" />
<line x1="657.27" y1="174.50" x2="657.27" y2="171.90" stroke="#000" stroke-width="0.9" />
<line x1="657.27" y1="180.40" x2="657.27" y2="182.60" stroke="#000" stroke-width="0.9" />
<line x1="657.27" y1="221.00" x2="657.27" y2="218.80" stroke="#000" stroke-width="0.9" />
<line x1="663.60" y1="1.30" x2="663.60" y2="3.90" stroke="#000" stroke-width="0.9" />
<line x1="663.60" y1="174.50" x2="663.60" y2="171.90" stroke="#000" stroke-width="0.9" />
<line x1="663.60" y1="180.40" x2="663.60" y2="182.60" stroke="#000" stroke-width="0.9" />
<line x1="663.60" y1="221.00" x2="663.60" y2="218.80" stroke="#000" stroke-width="0.9" />
<line x1="669.93" y1="1.30" x2="669.93" y2="3.90" stroke="#000" stroke-width="0.9" />
<line x1="669.93" y1="174.50" x2="669.93" y2="171.90" stroke="#000" stroke-width="0.9" />
<line x1="669.93" y1="180.40" x2="669.93" y2="182.60" stroke="#000" stroke-width="0.9" />
<line x1="669.93" y1="221.00" x2="669.93" y2="218.80" stroke="#000" stroke-width="0.9" />
<line x1="676.27" y1="1.30" x2="676.27" y2="3.90" stroke="#000" stroke-width="0.9" />
<line x1="676.27" y1="174.50" x2="676.27" y2="171.90" stroke="#000" stroke-width="0.9" />
<line x1="676.27" y1="180.40" x2="676.27" y2="182.60" stroke="#000" stroke-width="0.9" />
<line x1="676.27" y1="221.00" x2="676.27" y2="218.80" stroke="#000" stroke-width="0.9" />
<line x1="682.60" y1="1.30" x2="682.60" y2="6.30" stroke="#000" stroke-width="0.9" />
<line x1="682.60" y1="174.50" x2="682.60" y2="169.50" stroke="#000" stroke-width="0.9" />
<line x1="682.60" y1="180.40" x2="682.60" y2="184.40" stroke="#000" stroke-width="0.9" />
<line x1="682.60" y1="221.00" x2="682.60" y2="217.00" stroke="#000" stroke-width="0.9" />
<line x1="28.40" y1="172.99" x2="33.40" y2="172.99" stroke="#000" stroke-width="0.9" />
<line x1="313.50" y1="172.99" x2="308.50" y2="172.99" stroke="#000" stroke-width="0.9" />
<line x1="28.40" y1="169.76" x2="33.40" y2="169.76" stroke="#000" stroke-width="0.9" />
<line x1="313.50" y1="169.76" x2="308.50" y2="169.76" stroke="#000" stroke-width="0.9" />
<line x1="28.40" y1="167.26" x2="33.40" y2="167.26" stroke="#000" stroke-width="0.9" />
<line x1="313.50" y1="167.26" x2="308.50" y2="167.26" stroke="#000" stroke-width="0.9" />
<line x1="28.40" y1="165.21" x2="33.40" y2="165.21" stroke="#000" stroke-width="0.9" />
<line x1="313.50" y1="165.21" x2="308.50" y2="165.21" stroke="#000" stroke-width="0.9" />
<line x1="28.40" y1="163.48" x2="33.40" y2="163.48" stroke="#000" stroke-width="0.9" />
<line x1="313.50" y1="163.48" x2="308.50" y2="163.48" stroke="#000" stroke-width="0.9" />
<line x1="28.40" y1="161.98" x2="33.40" y2="161.98" stroke="#000" stroke-width="0.9" />
<line x1="313.50" y1="161.98" x2="308.50" y2="161.98" stroke="#000" stroke-width="0.9" />
<line x1="28.40" y1="160.66" x2="33.40" y2="160.66" stroke="#000" stroke-width="0.9" />
<line x1="313.50" y1="160.66" x2="308.50" y2="160.66" stroke="#000" stroke-width="0.9" />
<line x1="28.40" y1="159.48" x2="38.40" y2="159.48" stroke="#000" stroke-width="0.9" />
<line x1="313.50" y1="159.48" x2="303.50" y2="159.48" stroke="#000" stroke-width="0.9" />
<line x1="28.40" y1="151.70" x2="33.40" y2="151.70" stroke="#000" stroke-width="0.9" />
<line x1="313.50" y1="151.70" x2="308.50" y2="151.70" stroke="#000" stroke-width="0.9" />
<line x1="28.40" y1="147.16" x2="33.40" y2="147.16" stroke="#000" stroke-width="0.9" />
<line x1="313.50" y1="147.16" x2="308.50" y2="147.16" stroke="#000" stroke-width="0.9" />
<line x1="28.40" y1="143.93" x2="33.40" y2="143.93" stroke="#000" stroke-width="0.9" />
<line x1="313.50" y1="143.93" x2="308.50" y2="143.93" stroke="#000" stroke-width="0.9" />
<line x1="28.40" y1="141.43" x2="33.40" y2="141.43" stroke="#000" stroke-width="0.9" />
<line x1="313.50" y1="141.43" x2="308.50" y2="141.43" stroke="#000" stroke-width="0.9" />
<line x1="28.40" y1="139.38" x2="33.40" y2="139.38" stroke="#000" stroke-width="0.9" />
<line x1="313.50" y1="139.38" x2="308.50" y2="139.38" stroke="#000" stroke-width="0.9" />
<line x1="28.40" y1="137.65" x2="33.40" y2="137.65" stroke="#000" stroke-width="0.9" />
<line x1="313.50" y1="137.65" x2="308.50" y2="137.65" stroke="#000" stroke-width="0.9" />
<line x1="28.40" y1="136.15" x2="33.40" y2="136.15" stroke="#000" stroke-width="0.9" />
<line x1="313.50" y1="136.15" x2="308.50" y2="136.15" stroke="#000" stroke-width="0.9" />
<line x1="28.40" y1="134.83" x2="33.40" y2="134.83" stroke="#000" stroke-width="0.9" />
<line x1="313.50" y1="134.83" x2="308.50" y2="134.83" stroke="#000" stroke-width="0.9" />
<line x1="28.40" y1="133.65" x2="38.40" y2="133.65" stroke="#000" stroke-width="0.9" />
<line x1="313.50" y1="133.65" x2="303.50" y2="133.65" stroke="#000" stroke-width="0.9" />
<line x1="28.40" y1="125.87" x2="33.40" y2="125.87" stroke="#000" stroke-width="0.9" />
<line x1="313.50" y1="125.87" x2="308.50" y2="125.87" stroke="#000" stroke-width="0.9" />
<line x1="28.40" y1="121.33" x2="33.40" y2="121.33" stroke="#000" stroke-width="0.9" />
<line x1="313.50" y1="121.33" x2="308.50" y2="121.33" stroke="#000" stroke-width="0.9" />
<line x1="28.40" y1="118.10" x2="33.40" y2="118.10" stroke="#000" stroke-width="0.9" />
<line x1="313.50" y1="118.10" x2="308.50" y2="118.10" stroke="#000" stroke-width="0.9" />
<line x1="28.40" y1="115.60" x2="33.40" y2="115.60" stroke="#000" stroke-width="0.9" />
<line x1="313.50" y1="115.60" x2="308.50" y2="115.60" stroke="#000" stroke-width="0.9" />
<line x1="28.40" y1="113.55" x2="33.40" y2="113.55" stroke="#000" stroke-width="0.9" />
<line x1="313.50" y1="113.55" x2="308.50" y2="113.55" stroke="#000" stroke-width="0.9" />
<line x1="28.40" y1="111.82" x2="33.40" y2="111.82" stroke="#000" stroke-width="0.9" />
<line x1="313.50" y1="111.82" x2="308.50" y2="111.82" stroke="#000" stroke-width="0.9" />
<line x1="28.40" y1="110.32" x2="33.40" y2="110.32" stroke="#000" stroke-width="0.9" />
<line x1="313.50" y1="110.32" x2="308.50" y2="110.32" stroke="#000" stroke-width="0.9" />
<line x1="28.40" y1="109.00" x2="33.40" y2="109.00" stroke="#000" stroke-width="0.9" />
<line x1="313.50" y1="109.00" x2="308.50" y2="109.00" stroke="#000" stroke-width="0.9" />
<line x1="28.40" y1="107.82" x2="38.40" y2="107.82" stroke="#000" stroke-width="0.9" />
<line x1="313.50" y1="107.82" x2="303.50" y2="107.82" stroke="#000" stroke-width="0.9" />
<line x1="28.40" y1="100.04" x2="33.40" y2="100.04" stroke="#000" stroke-width="0.9" />
<line x1="313.50" y1="100.04" x2="308.50" y2="100.04" stroke="#000" stroke-width="0.9" />
<line x1="28.40" y1="95.50" x2="33.40" y2="95.50" stroke="#000" stroke-width="0.9" />
<line x1="313.50" y1="95.50" x2="308.50" y2="95.50" stroke="#000" stroke-width="0.9" />
<line x1="28.40" y1="92.27" x2="33.40" y2="92.27" stroke="#000" stroke-width="0.9" />
<line x1="313.50" y1="92.27" x2="308.50" y2="92.27" stroke="#000" stroke-width="0.9" />
<line x1="28.40" y1="89.77" x2="33.40" y2="89.77" stroke="#000" stroke-width="0.9" />
<line x1="313.50" y1="89.77" x2="308.50" y2="89.77" stroke="#000" stroke-width="0.9" />
<line x1="28.40" y1="87.72" x2="33.40" y2="87.72" stroke="#000" stroke-width="0.9" />
<line x1="313.50" y1="87.72" x2="308.50" y2="87.72" stroke="#000" stroke-width="0.9" />
<line x1="28.40" y1="85.99" x2="33.40" y2="85.99" stroke="#000" stroke-width="0.9" />
<line x1="313.50" y1="85.99" x2="308.50" y2="85.99" stroke="#000" stroke-width="0.9" />
<line x1="28.40" y1="84.49" x2="33.40" y2="84.49" stroke="#000" stroke-width="0.9" />
<line x1="313.50" y1="84.49" x2="308.50" y2="84.49" stroke="#000" stroke-width="0.9" />
<line x1="28.40" y1="83.17" x2="33.40" y2="83.17" stroke="#000" stroke-width="0.9" />
<line x1="313.50" y1="83.17" x2="308.50" y2="83.17" stroke="#000" stroke-width="0.9" />
<line x1="28.40" y1="81.99" x2="38.40" y2="81.99" stroke="#000" stroke-width="0.9" />
<line x1="313.50" y1="81.99" x2="303.50" y2="81.99" stroke="#000" stroke-width="0.9" />
<line x1="28.40" y1="74.21" x2="33.40" y2="74.21" stroke="#000" stroke-width="0.9" />
<line x1="313.50" y1="74.21" x2="308.50" y2="74.21" stroke="#000" stroke-width="0.9" />
<line x1="28.40" y1="69.67" x2="33.40" y2="69.67" stroke="#000" stroke-width="0.9" />
<line x1="313.50" y1="69.67" x2="308.50" y2="69.67" stroke="#000" stroke-width="0.9" />
<line x1="28.40" y1="66.44" x2="33.40" y2="66.44" stroke="#000" stroke-width="0.9" />
<line x1="313.50" y1="66.44" x2="308.50" y2="66.44" stroke="#000" stroke-width="0.9" />
<line x1="28.40" y1="63.94" x2="33.40" y2="63.94" stroke="#000" stroke-width="0.9" />
<line x1="313.50" y1="63.94" x2="308.50" y2="63.94" stroke="#000" stroke-width="0.9" />
<line x1="28.40" y1="61.89" x2="33.40" y2="61.89" stroke="#000" stroke-width="0.9" />
<line x1="313.50" y1="61.89" x2="308.50" y2="61.89" stroke="#000" stroke-width="0.9" />
<line x1="28.40" y1="60.16" x2="33.40" y2="60.16" stroke="#000" stroke-width="0.9" />
<line x1="313.50" y1="60.16" x2="308.50" y2="60.16" stroke="#000" stroke-width="0.9" />
<line x1="28.40" y1="58.66" x2="33.40" y2="58.66" stroke="#000" stroke-width="0.9" />
<line x1="313.50" y1="58.66" x2="308.50" y2="58.66" stroke="#000" stroke-width="0.9" />
<line x1="28.40" y1="57.34" x2="33.40" y2="57.34" stroke="#000" stroke-width="0.9" />
<line x1="313.50" y1="57.34" x2="308.50" y2="57.34" stroke="#000" stroke-width="0.9" />
<line x1="28.40" y1="56.16" x2="38.40" y2="56.16" stroke="#000" stroke-width="0.9" />
<line x1="313.50" y1="56.16" x2="303.50" y2="56.16" stroke="#000" stroke-width="0.9" />
<line x1="28.40" y1="48.38" x2="33.40" y2="48.38" stroke="#000" stroke-width="0.9" />
<line x1="313.50" y1="48.38" x2="308.50" y2="48.38" stroke="#000" stroke-width="0.9" />
<line x1="28.40" y1="43.84" x2="33.40" y2="43.84" stroke="#000" stroke-width="0.9" />
<line x1="313.50" y1="43.84" x2="308.50" y2="43.84" stroke="#000" stroke-width="0.9" />
<line x1="28.40" y1="40.61" x2="33.40" y2="40.61" stroke="#000" stroke-width="0.9" />
<line x1="313.50" y1="40.61" x2="308.50" y2="40.61" stroke="#000" stroke-width="0.9" />
<line x1="28.40" y1="38.11" x2="33.40" y2="38.11" stroke="#000" stroke-width="0.9" />
<line x1="313.50" y1="38.11" x2="308.50" y2="38.11" stroke="#000" stroke-width="0.9" />
<line x1="28.40" y1="36.06" x2="33.40" y2="36.06" stroke="#000" stroke-width="0.9" />
<line x1="313.50" y1="36.06" x2="308.50" y2="36.06" stroke="#000" stroke-width="0.9" />
<line x1="28.40" y1="34.33" x2="33.40" y2="34.33" stroke="#000" stroke-width="0.9" />
<line x1="313.50" y1="34.33" x2="308.50" y2="34.33" stroke="#000" stroke-width="0.9" />
<line x1="28.40" y1="32.83" x2="33.40" y2="32.83" stroke="#000" stroke-width="0.9" />
<line x1="313.50" y1="32.83" x2="308.50" y2="32.83" stroke="#000" stroke-width="0.9" />
<line x1="28.40" y1="31.51" x2="33.40" y2="31.51" stroke="#000" stroke-width="0.9" />
<line x1="313.50" y1="31.51" x2="308.50" y2="31.51" stroke="#000" stroke-width="0.9" />
<line x1="28.40" y1="30.33" x2="38.40" y2="30.33" stroke="#000" stroke-width="0.9" />
<line x1="313.50" y1="30.33" x2="303.50" y2="30.33" stroke="#000" stroke-width="0.9" />
<line x1="28.40" y1="22.55" x2="33.40" y2="22.55" stroke="#000" stroke-width="0.9" />
<line x1="313.50" y1="22.55" x2="308.50" y2="22.55" stroke="#000" stroke-width="0.9" />
<line x1="28.40" y1="18.01" x2="33.40" y2="18.01" stroke="#000" stroke-width="0.9" />
<line x1="313.50" y1="18.01" x2="308.50" y2="18.01" stroke="#000" stroke-width="0.9" />
<line x1="28.40" y1="14.78" x2="33.40" y2="14.78" stroke="#000" stroke-width="0.9" />
<line x1="313.50" y1="14.78" x2="308.50" y2="14.78" stroke="#000" stroke-width="0.9" />
<line x1="28.40" y1="12.28" x2="33.40" y2="12.28" stroke="#000" stroke-width="0.9" />
<line x1="313.50" y1="12.28" x2="308.50" y2="12.28" stroke="#000" stroke-width="0.9" />
<line x1="28.40" y1="10.23" x2="33.40" y2="10.23" stroke="#000" stroke-width="0.9" />
<line x1="313.50" y1="10.23" x2="308.50" y2="10.23" stroke="#000" stroke-width="0.9" />
<line x1="28.40" y1="8.50" x2="33.40" y2="8.50" stroke="#000" stroke-width="0.9" />
<line x1="313.50" y1="8.50" x2="308.50" y2="8.50" stroke="#000" stroke-width="0.9" />
<line x1="28.40" y1="7.00" x2="33.40" y2="7.00" stroke="#000" stroke-width="0.9" />
<line x1="313.50" y1="7.00" x2="308.50" y2="7.00" stroke="#000" stroke-width="0.9" />
<line x1="28.40" y1="5.68" x2="33.40" y2="5.68" stroke="#000" stroke-width="0.9" />
<line x1="313.50" y1="5.68" x2="308.50" y2="5.68" stroke="#000" stroke-width="0.9" />
<line x1="28.40" y1="4.50" x2="38.40" y2="4.50" stroke="#000" stroke-width="0.9" />
<line x1="313.50" y1="4.50" x2="303.50" y2="4.50" stroke="#000" stroke-width="0.9" />
<line x1="397.60" y1="169.58" x2="402.60" y2="169.58" stroke="#000" stroke-width="0.9" />
<line x1="682.60" y1="169.58" x2="677.60" y2="169.58" stroke="#000" stroke-width="0.9" />
<line x1="397.60" y1="164.27" x2="402.60" y2="164.27" stroke="#000" stroke-width="0.9" />
<line x1="682.60" y1="164.27" x2="677.60" y2="164.27" stroke="#000" stroke-width="0.9" />
<line x1="397.60" y1="158.95" x2="402.60" y2="158.95" stroke="#000" stroke-width="0.9" />
<line x1="682.60" y1="158.95" x2="677.60" y2="158.95" stroke="#000" stroke-width="0.9" />
<line x1="397.60" y1="153.64" x2="402.60" y2="153.64" stroke="#000" stroke-width="0.9" />
<line x1="682.60" y1="153.64" x2="677.60" y2="153.64" stroke="#000" stroke-width="0.9" />
<line x1="397.60" y1="148.32" x2="407.60" y2="148.32" stroke="#000" stroke-width="0.9" />
<line x1="682.60" y1="148.32" x2="672.60" y2="148.32" stroke="#000" stroke-width="0.9" />
<line x1="397.60" y1="143.00" x2="402.60" y2="143.00" stroke="#000" stroke-width="0.9" />
<line x1="682.60" y1="143.00" x2="677.60" y2="143.00" stroke="#000" stroke-width="0.9" />
<line x1="397.60" y1="137.69" x2="402.60" y2="137.69" stroke="#000" stroke-width="0.9" />
<line x1="682.60" y1="137.69" x2="677.60" y2="137.69" stroke="#000" stroke-width="0.9" />
<line x1="397.60" y1="132.37" x2="402.60" y2="132.37" stroke="#000" stroke-width="0.9" />
<line x1="682.60" y1="132.37" x2="677.60" y2="132.37" stroke="#000" stroke-width="0.9" />
<line x1="397.60" y1="127.06" x2="402.60" y2="127.06" stroke="#000" stroke-width="0.9" />
<line x1="682.60" y1="127.06" x2="677.60" y2="127.06" stroke="#000" stroke-width="0.9" />
<line x1="397.60" y1="121.74" x2="407.60" y2="121.74" stroke="#000" stroke-width="0.9" />
<line x1="682.60" y1="121.74" x2="672.60" y2="121.74" stroke="#000" stroke-width="0.9" />
<line x1="397.60" y1="116.42" x2="402.60" y2="116.42" stroke="#000" stroke-width="0.9" />
<line x1="682.60" y1="116.42" x2="677.60" y2="116.42" stroke="#000" stroke-width="0.9" />
<line x1="397.60" y1="111.11" x2="402.60" y2="111.11" stroke="#000" stroke-width="0.9" />
<line x1="682.60" y1="111.11" x2="677.60" y2="111.11" stroke="#000" stroke-width="0.9" />
<line x1="397.60" y1="105.79" x2="402.60" y2="105.79" stroke="#000" stroke-width="0.9" />
<line x1="682.60" y1="105.79" x2="677.60" y2="105.79" stroke="#000" stroke-width="0.9" />
<line x1="397.60" y1="100.48" x2="402.60" y2="100.48" stroke="#000" stroke-width="0.9" />
<line x1="682.60" y1="100.48" x2="677.60" y2="100.48" stroke="#000" stroke-width="0.9" />
<line x1="397.60" y1="95.16" x2="407.60" y2="95.16" stroke="#000" stroke-width="0.9" />
<line x1="682.60" y1="95.16" x2="672.60" y2="95.16" stroke="#000" stroke-width="0.9" />
<line x1="397.60" y1="89.84" x2="402.60" y2="89.84" stroke="#000" stroke-width="0.9" />
<line x1="682.60" y1="89.84" x2="677.60" y2="89.84" stroke="#000" stroke-width="0.9" />
<line x1="397.60" y1="84.53" x2="402.60" y2="84.53" stroke="#000" stroke-width="0.9" />
<line x1="682.60" y1="84.53" x2="677.60" y2="84.53" stroke="#000" stroke-width="0.9" />
<line x1="397.60" y1="79.21" x2="402.60" y2="79.21" stroke="#000" stroke-width="0.9" />
<line x1="682.60" y1="79.21" x2="677.60" y2="79.21" stroke="#000" stroke-width="0.9" />
<line x1="397.60" y1="73.90" x2="402.60" y2="73.90" stroke="#000" stroke-width="0.9" />
<line x1="682.60" y1="73.90" x2="677.60" y2="73.90" stroke="#000" stroke-width="0.9" />
<line x1="397.60" y1="68.58" x2="407.60" y2="68.58" stroke="#000" stroke-width="0.9" />
<line x1="682.60" y1="68.58" x2="672.60" y2="68.58" stroke="#000" stroke-width="0.9" />
<line x1="397.60" y1="63.26" x2="402.60" y2="63.26" stroke="#000" stroke-width="0.9" />
<line x1="682.60" y1="63.26" x2="677.60" y2="63.26" stroke="#000" stroke-width="0.9" />
<line x1="397.60" y1="57.95" x2="402.60" y2="57.95" stroke="#000" stroke-width="0.9" />
<line x1="682.60" y1="57.95" x2="677.60" y2="57.95" stroke="#000" stroke-width="0.9" />
<line x1="397.60" y1="52.63" x2="402.60" y2="52.63" stroke="#000" stroke-width="0.9" />
<line x1="682.60" y1="52.63" x2="677.60" y2="52.63" stroke="#000" stroke-width="0.9" />
<line x1="397.60" y1="47.32" x2="402.60" y2="47.32" stroke="#000" stroke-width="0.9" />
<line x1="682.60" y1="47.32" x2="677.60" y2="47.32" stroke="#000" stroke-width="0.9" />
<line x1="397.60" y1="42.00" x2="407.60" y2="42.00" stroke="#000" stroke-width="0.9" />
<line x1="682.60" y1="42.00" x2="672.60" y2="42.00" stroke="#000" stroke-width="0.9" />
<line x1="397.60" y1="36.68" x2="402.60" y2="36.68" stroke="#000" stroke-width="0.9" />
<line x1="682.60" y1="36.68" x2="677.60" y2="36.68" stroke="#000" stroke-width="0.9" />
<line x1="397.60" y1="31.37" x2="402.60" y2="31.37" stroke="#000" stroke-width="0.9" />
<line x1="682.60" y1="31.37" x2="677.60" y2="31.37" stroke="#000" stroke-width="0.9" />
<line x1="397.60" y1="26.05" x2="402.60" y2="26.05" stroke="#000" stroke-width="0.9" />
<line x1="682.60" y1="26.05" x2="677.60" y2="26.05" stroke="#000" stroke-width="0.9" />
<line x1="397.60" y1="20.74" x2="402.60" y2="20.74" stroke="#000" stroke-width="0.9" />
<line x1="682.60" y1="20.74" x2="677.60" y2="20.74" stroke="#000" stroke-width="0.9" />
<line x1="397.60" y1="15.42" x2="407.60" y2="15.42" stroke="#000" stroke-width="0.9" />
<line x1="682.60" y1="15.42" x2="672.60" y2="15.42" stroke="#000" stroke-width="0.9" />
<line x1="397.60" y1="10.10" x2="402.60" y2="10.10" stroke="#000" stroke-width="0.9" />
<line x1="682.60" y1="10.10" x2="677.60" y2="10.10" stroke="#000" stroke-width="0.9" />
<line x1="397.60" y1="4.79" x2="402.60" y2="4.79" stroke="#000" stroke-width="0.9" />
<line x1="682.60" y1="4.79" x2="677.60" y2="4.79" stroke="#000" stroke-width="0.9" />
<line x1="28.40" y1="221.00" x2="36.40" y2="221.00" stroke="#000" stroke-width="0.9" />
<line x1="313.50" y1="221.00" x2="305.50" y2="221.00" stroke="#000" stroke-width="0.9" />
<line x1="28.40" y1="217.31" x2="32.40" y2="217.31" stroke="#000" stroke-width="0.9" />
<line x1="313.50" y1="217.31" x2="309.50" y2="217.31" stroke="#000" stroke-width="0.9" />
<line x1="28.40" y1="213.62" x2="32.40" y2="213.62" stroke="#000" stroke-width="0.9" />
<line x1="313.50" y1="213.62" x2="309.50" y2="213.62" stroke="#000" stroke-width="0.9" />
<line x1="28.40" y1="209.93" x2="32.40" y2="209.93" stroke="#000" stroke-width="0.9" />
<line x1="313.50" y1="209.93" x2="309.50" y2="209.93" stroke="#000" stroke-width="0.9" />
<line x1="28.40" y1="206.24" x2="32.40" y2="206.24" stroke="#000" stroke-width="0.9" />
<line x1="313.50" y1="206.24" x2="309.50" y2="206.24" stroke="#000" stroke-width="0.9" />
<line x1="28.40" y1="202.55" x2="36.40" y2="202.55" stroke="#000" stroke-width="0.9" />
<line x1="313.50" y1="202.55" x2="305.50" y2="202.55" stroke="#000" stroke-width="0.9" />
<line x1="28.40" y1="198.85" x2="32.40" y2="198.85" stroke="#000" stroke-width="0.9" />
<line x1="313.50" y1="198.85" x2="309.50" y2="198.85" stroke="#000" stroke-width="0.9" />
<line x1="28.40" y1="195.16" x2="32.40" y2="195.16" stroke="#000" stroke-width="0.9" />
<line x1="313.50" y1="195.16" x2="309.50" y2="195.16" stroke="#000" stroke-width="0.9" />
<line x1="28.40" y1="191.47" x2="32.40" y2="191.47" stroke="#000" stroke-width="0.9" />
<line x1="313.50" y1="191.47" x2="309.50" y2="191.47" stroke="#000" stroke-width="0.9" />
<line x1="28.40" y1="187.78" x2="32.40" y2="187.78" stroke="#000" stroke-width="0.9" />
<line x1="313.50" y1="187.78" x2="309.50" y2="187.78" stroke="#000" stroke-width="0.9" />
<line x1="28.40" y1="184.09" x2="36.40" y2="184.09" stroke="#000" stroke-width="0.9" />
<line x1="313.50" y1="184.09" x2="305.50" y2="184.09" stroke="#000" stroke-width="0.9" />
<line x1="28.40" y1="180.40" x2="32.40" y2="180.40" stroke="#000" stroke-width="0.9" />
<line x1="313.50" y1="180.40" x2="309.50" y2="180.40" stroke="#000" stroke-width="0.9" />
<line x1="397.60" y1="221.00" x2="405.60" y2="221.00" stroke="#000" stroke-width="0.9" />
<line x1="682.60" y1="221.00" x2="674.60" y2="221.00" stroke="#000" stroke-width="0.9" />
<line x1="397.60" y1="217.31" x2="401.60" y2="217.31" stroke="#000" stroke-width="0.9" />
<line x1="682.60" y1="217.31" x2="678.60" y2="217.31" stroke="#000" stroke-width="0.9" />
<line x1="397.60" y1="213.62" x2="401.60" y2="213.62" stroke="#000" stroke-width="0.9" />
<line x1="682.60" y1="213.62" x2="678.60" y2="213.62" stroke="#000" stroke-width="0.9" />
<line x1="397.60" y1="209.93" x2="401.60" y2="209.93" stroke="#000" stroke-width="0.9" />
<line x1="682.60" y1="209.93" x2="678.60" y2="209.93" stroke="#000" stroke-width="0.9" />
<line x1="397.60" y1="206.24" x2="401.60" y2="206.24" stroke="#000" stroke-width="0.9" />
<line x1="682.60" y1="206.24" x2="678.60" y2="206.24" stroke="#000" stroke-width="0.9" />
<line x1="397.60" y1="202.55" x2="405.60" y2="202.55" stroke="#000" stroke-width="0.9" />
<line x1="682.60" y1="202.55" x2="674.60" y2="202.55" stroke="#000" stroke-width="0.9" />
<line x1="397.60" y1="198.85" x2="401.60" y2="198.85" stroke="#000" stroke-width="0.9" />
<line x1="682.60" y1="198.85" x2="678.60" y2="198.85" stroke="#000" stroke-width="0.9" />
<line x1="397.60" y1="195.16" x2="401.60" y2="195.16" stroke="#000" stroke-width="0.9" />
<line x1="682.60" y1="195.16" x2="678.60" y2="195.16" stroke="#000" stroke-width="0.9" />
<line x1="397.60" y1="191.47" x2="401.60" y2="191.47" stroke="#000" stroke-width="0.9" />
<line x1="682.60" y1="191.47" x2="678.60" y2="191.47" stroke="#000" stroke-width="0.9" />
<line x1="397.60" y1="187.78" x2="401.60" y2="187.78" stroke="#000" stroke-width="0.9" />
<line x1="682.60" y1="187.78" x2="678.60" y2="187.78" stroke="#000" stroke-width="0.9" />
<line x1="397.60" y1="184.09" x2="405.60" y2="184.09" stroke="#000" stroke-width="0.9" />
<line x1="682.60" y1="184.09" x2="674.60" y2="184.09" stroke="#000" stroke-width="0.9" />
<line x1="397.60" y1="180.40" x2="401.60" y2="180.40" stroke="#000" stroke-width="0.9" />
<line x1="682.60" y1="180.40" x2="678.60" y2="180.40" stroke="#000" stroke-width="0.9" />
<text x="25.2" y="8.10" font-size="9.3" text-anchor="end">10<tspan font-size="6.2" dy="-3.9">5</tspan></text>
<text x="25.2" y="33.93" font-size="9.3" text-anchor="end">10<tspan font-size="6.2" dy="-3.9">4</tspan></text>
<text x="25.2" y="59.76" font-size="9.3" text-anchor="end">10<tspan font-size="6.2" dy="-3.9">3</tspan></text>
<text x="25.2" y="85.59" font-size="9.3" text-anchor="end">10<tspan font-size="6.2" dy="-3.9">2</tspan></text>
<text x="25.00" y="111.02" font-size="9.3" text-anchor="end" >10</text>
<text x="25.00" y="136.85" font-size="9.3" text-anchor="end" >1</text>
<text x="25.2" y="163.08" font-size="9.3" text-anchor="end">10<tspan font-size="6.2" dy="-3.9">-1</tspan></text>
<text x="394.80" y="151.52" font-size="9.3" text-anchor="end" >10</text>
<text x="394.80" y="124.94" font-size="9.3" text-anchor="end" >20</text>
<text x="394.80" y="98.36" font-size="9.3" text-anchor="end" >30</text>
<text x="394.80" y="71.78" font-size="9.3" text-anchor="end" >40</text>
<text x="394.80" y="45.20" font-size="9.3" text-anchor="end" >50</text>
<text x="394.80" y="18.62" font-size="9.3" text-anchor="end" >60</text>
<text x="26.40" y="224.50" font-size="9.8" text-anchor="end" >0</text>
<text x="26.40" y="206.05" font-size="9.8" text-anchor="end" >1</text>
<text x="26.40" y="187.59" font-size="9.8" text-anchor="end" >2</text>
<text x="395.60" y="224.50" font-size="9.8" text-anchor="end" >0</text>
<text x="395.60" y="206.05" font-size="9.8" text-anchor="end" >1</text>
<text x="395.60" y="187.59" font-size="9.8" text-anchor="end" >2</text>
<text x="64.04" y="231.80" font-size="9.3" text-anchor="middle" >&#8722;0.5</text>
<text x="108.58" y="231.80" font-size="9.3" text-anchor="middle" >0</text>
<text x="153.13" y="231.80" font-size="9.3" text-anchor="middle" >0.5</text>
<text x="197.68" y="231.80" font-size="9.3" text-anchor="middle" >1</text>
<text x="242.22" y="231.80" font-size="9.3" text-anchor="middle" >1.5</text>
<text x="286.77" y="231.80" font-size="9.3" text-anchor="middle" >2</text>
<text x="397.60" y="231.80" font-size="9.3" text-anchor="middle" >&#8722;1.5</text>
<text x="429.27" y="231.80" font-size="9.3" text-anchor="middle" >&#8722;1</text>
<text x="460.93" y="231.80" font-size="9.3" text-anchor="middle" >&#8722;0.5</text>
<text x="492.60" y="231.80" font-size="9.3" text-anchor="middle" >0</text>
<text x="524.27" y="231.80" font-size="9.3" text-anchor="middle" >0.5</text>
<text x="555.93" y="231.80" font-size="9.3" text-anchor="middle" >1</text>
<text x="587.60" y="231.80" font-size="9.3" text-anchor="middle" >1.5</text>
<text x="619.27" y="231.80" font-size="9.3" text-anchor="middle" >2</text>
<text x="650.93" y="231.80" font-size="9.3" text-anchor="middle" >2.5</text>
<text x="682.60" y="231.80" font-size="9.3" text-anchor="middle" >3</text>
<text transform="translate(8.3,-2.3) rotate(-90)" font-size="11.0" text-anchor="end">Events / 0.2</text>
<text transform="translate(8.0,199.9) rotate(-90)" font-size="11.0" text-anchor="middle">Data/SM</text>
<text transform="translate(377.9,-1.6) rotate(-90)" font-size="11.0" text-anchor="end">Events / 0.3</text>
<text transform="translate(377.8,199.7) rotate(-90)" font-size="11.0" text-anchor="middle">Data/SM</text>
<text x="273.3" y="246.5" font-size="11.2">cosh<tspan font-size="8.2" dy="2.9">max</tspan></text>
<text x="637.0" y="243.6" font-size="11.4">log</text>
<text x="655.6" y="244.2" font-size="12.6" font-family="Liberation Serif, serif" font-style="italic" style="stroke-width:0.5px">&#967;</text>
<text x="662.6" y="239.6" font-size="7.6">2</text>
<text x="662.6" y="252.0" font-size="8.0">tt,had</text>
<line x1="665.00" y1="245.90" x2="667.30" y2="245.90" stroke="#000" stroke-width="0.6" />
<text x="142.2" y="262.2" font-size="15.5" font-family="Liberation Serif, serif">(a)</text>
<text x="511.6" y="262.2" font-size="15.5" font-family="Liberation Serif, serif">(b)</text>
<line x1="50.50" y1="11.00" x2="50.50" y2="17.50" stroke="#000" stroke-width="1" />
<circle cx="50.60" cy="14.2" r="2.1" fill="#000"/>
<text x="59.00" y="16.40" font-size="8.55" text-anchor="start" >Data</text>
<rect x="44.80" y="22.20" width="11.50" height="7.40" fill="#66ff99"/>
<rect x="44.80" y="33.30" width="11.50" height="7.40" fill="#006600"/>
<rect x="44.80" y="44.90" width="11.50" height="7.40" fill="#ffff00"/>
<rect x="44.80" y="55.90" width="11.50" height="7.40" fill="#9933ff"/>
<text x="59.20" y="28.50" font-size="8.55" text-anchor="start" >tt (other)</text>
<line x1="61.70" y1="21.70" x2="64.10" y2="21.70" stroke="#000" stroke-width="0.6" />
<text x="59.20" y="39.70" font-size="8.55" text-anchor="start" >Single-top</text>
<text x="59.20" y="51.30" font-size="8.55" text-anchor="start" >Z+jets</text>
<text x="59.20" y="62.30" font-size="8.55" text-anchor="start" >Diboson</text>
<g><rect x="99.10" y="9.9" width="11.9" height="8.7" fill="url(#hatch)"/></g>
<line x1="99.10" y1="14.30" x2="111.00" y2="14.30" stroke="#e00000" stroke-width="1.2" />
<text x="113.40" y="16.40" font-size="8.55" text-anchor="start" >Standard Model</text>
<rect x="99.20" y="22.20" width="11.40" height="7.40" fill="#8ccc00"/>
<rect x="99.20" y="33.30" width="11.40" height="7.40" fill="#1e8cff"/>
<rect x="99.20" y="44.90" width="11.40" height="7.40" fill="#ee5a2a"/>
<rect x="99.20" y="55.90" width="11.40" height="7.40" fill="#1a0066"/>
<text x="113.40" y="28.50" font-size="8.55" text-anchor="start" >ttb</text>
<line x1="115.90" y1="21.70" x2="118.30" y2="21.70" stroke="#000" stroke-width="0.6" />
<text x="113.40" y="39.70" font-size="8.55" text-anchor="start" >W+jets</text>
<text x="113.40" y="51.30" font-size="8.55" text-anchor="start" >ttZ</text>
<line x1="115.90" y1="44.40" x2="118.30" y2="44.40" stroke="#000" stroke-width="0.6" />
<text x="113.40" y="62.30" font-size="8.55" text-anchor="start" >Other</text>
<line x1="44.90" y1="74.80" x2="64.40" y2="74.80" stroke="#00ffff" stroke-width="1.4" stroke-dasharray="4 1.5 0.8 1.4 0.8 1.4 0.8 1.5"/>
<line x1="44.90" y1="84.80" x2="64.40" y2="84.80" stroke="#ff00ff" stroke-width="1.5" stroke-dasharray="13.4 3.4 2.7 3.4"/>
<line x1="44.90" y1="94.40" x2="64.40" y2="94.40" stroke="#000" stroke-width="1.7" stroke-dasharray="2.6 1.5"/>
<text x="68.50" y="77.40" font-size="7.9" text-anchor="start" >m(&#981;,&#967;) = (10,1) GeV</text>
<text x="68.50" y="87.40" font-size="7.9" text-anchor="start" >m(a,&#967;) = (50,1) GeV</text>
<text x="68.50" y="96.6" font-size="7.9"><tspan font-style="italic">B</tspan>(<tspan font-style="italic">H</tspan><tspan dx="9.6"> inv) = 0.3</tspan></text>
<line x1="82.40" y1="93.90" x2="89.40" y2="93.90" stroke="#000" stroke-width="0.8" />
<path d="M87.00,92.0 L89.60,93.9 L87.00,95.8" fill="none" stroke="#000" stroke-width="0.8"/>
<text x="187.60" y="20.8" font-size="13.4" font-weight="bold" font-style="italic">ATLAS</text>
<text x="187.30" y="32.6" font-size="9"><tspan stroke="#000" stroke-width="0.45">&#8730;</tspan>s = 13 TeV, 139 fb<tspan font-size="6" dy="-3.4">-1</tspan></text>
<line x1="191.50" y1="25.40" x2="196.50" y2="25.40" stroke="#000" stroke-width="0.7" />
<text x="187.10" y="44.00" font-size="9.0" text-anchor="start" >tt0L-low analysis, SR0X</text>
<line x1="420.10" y1="11.00" x2="420.10" y2="17.50" stroke="#000" stroke-width="1" />
<circle cx="420.20" cy="14.2" r="2.1" fill="#000"/>
<text x="428.60" y="16.40" font-size="8.55" text-anchor="start" >Data</text>
<rect x="414.40" y="22.20" width="11.50" height="7.40" fill="#66ff99"/>
<rect x="414.40" y="33.30" width="11.50" height="7.40" fill="#006600"/>
<rect x="414.40" y="44.90" width="11.50" height="7.40" fill="#ffff00"/>
<rect x="414.40" y="55.90" width="11.50" height="7.40" fill="#9933ff"/>
<text x="428.80" y="28.50" font-size="8.55" text-anchor="start" >tt (other)</text>
<line x1="431.30" y1="21.70" x2="433.70" y2="21.70" stroke="#000" stroke-width="0.6" />
<text x="428.80" y="39.70" font-size="8.55" text-anchor="start" >Single-top</text>
<text x="428.80" y="51.30" font-size="8.55" text-anchor="start" >Z+jets</text>
<text x="428.80" y="62.30" font-size="8.55" text-anchor="start" >Diboson</text>
<g><rect x="468.70" y="9.9" width="11.9" height="8.7" fill="url(#hatch)"/></g>
<line x1="468.70" y1="14.30" x2="480.60" y2="14.30" stroke="#e00000" stroke-width="1.2" />
<text x="483.00" y="16.40" font-size="8.55" text-anchor="start" >Standard Model</text>
<rect x="468.80" y="22.20" width="11.40" height="7.40" fill="#8ccc00"/>
<rect x="468.80" y="33.30" width="11.40" height="7.40" fill="#1e8cff"/>
<rect x="468.80" y="44.90" width="11.40" height="7.40" fill="#ee5a2a"/>
<rect x="468.80" y="55.90" width="11.40" height="7.40" fill="#1a0066"/>
<text x="483.00" y="28.50" font-size="8.55" text-anchor="start" >ttb</text>
<line x1="485.50" y1="21.70" x2="487.90" y2="21.70" stroke="#000" stroke-width="0.6" />
<text x="483.00" y="39.70" font-size="8.55" text-anchor="start" >W+jets</text>
<text x="483.00" y="51.30" font-size="8.55" text-anchor="start" >ttZ</text>
<line x1="485.50" y1="44.40" x2="487.90" y2="44.40" stroke="#000" stroke-width="0.6" />
<text x="483.00" y="62.30" font-size="8.55" text-anchor="start" >Other</text>
<line x1="414.50" y1="74.80" x2="434.00" y2="74.80" stroke="#00ffff" stroke-width="1.4" stroke-dasharray="4 1.5 0.8 1.4 0.8 1.4 0.8 1.5"/>
<line x1="414.50" y1="84.80" x2="434.00" y2="84.80" stroke="#ff00ff" stroke-width="1.5" stroke-dasharray="13.4 3.4 2.7 3.4"/>
<line x1="414.50" y1="94.40" x2="434.00" y2="94.40" stroke="#000" stroke-width="1.7" stroke-dasharray="2.6 1.5"/>
<text x="438.10" y="77.40" font-size="7.9" text-anchor="start" >m(&#981;,&#967;) = (10,1) GeV</text>
<text x="438.10" y="87.40" font-size="7.9" text-anchor="start" >m(a,&#967;) = (50,1) GeV</text>
<text x="438.10" y="96.6" font-size="7.9"><tspan font-style="italic">B</tspan>(<tspan font-style="italic">H</tspan><tspan dx="9.6"> inv) = 0.3</tspan></text>
<line x1="452.00" y1="93.90" x2="459.00" y2="93.90" stroke="#000" stroke-width="0.8" />
<path d="M456.60,92.0 L459.20,93.9 L456.60,95.8" fill="none" stroke="#000" stroke-width="0.8"/>
<text x="557.20" y="20.8" font-size="13.4" font-weight="bold" font-style="italic">ATLAS</text>
<text x="556.90" y="32.6" font-size="9"><tspan stroke="#000" stroke-width="0.45">&#8730;</tspan>s = 13 TeV, 139 fb<tspan font-size="6" dy="-3.4">-1</tspan></text>
<line x1="561.10" y1="25.40" x2="566.10" y2="25.40" stroke="#000" stroke-width="0.7" />
<text x="556.70" y="44.00" font-size="9.0" text-anchor="start" >tt0L-low analysis, SR0X</text>
</svg></body></html>
